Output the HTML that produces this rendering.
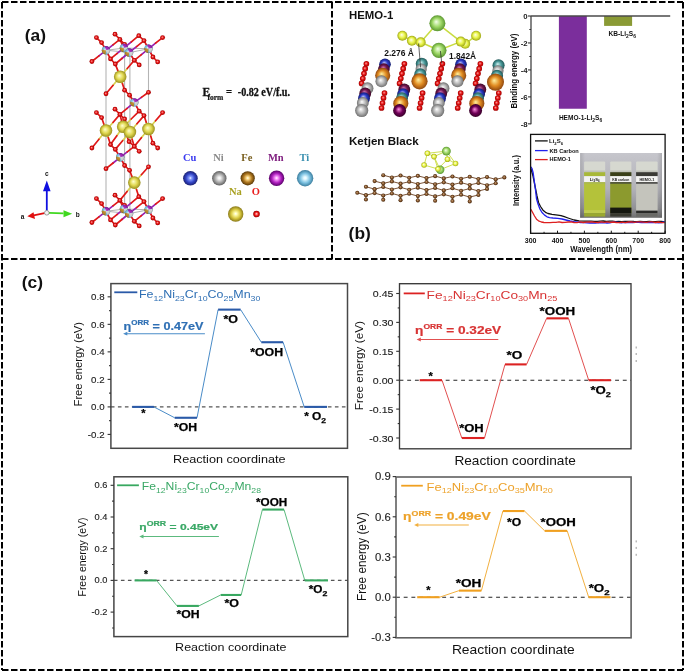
<!DOCTYPE html><html><head><meta charset="utf-8"><style>html,body{margin:0;padding:0;background:#fff;}svg{display:block;will-change:transform;}</style></head><body>
<svg width="685" height="672" viewBox="0 0 685 672">
<defs>
<radialGradient id="g_red" cx="0.5" cy="0.5" r="0.5" fx="0.42" fy="0.4"><stop offset="0" stop-color="#ff9a9a"/><stop offset="0.55" stop-color="#e01010"/><stop offset="1" stop-color="#a00000"/></radialGradient>
<radialGradient id="g_blue" cx="0.5" cy="0.5" r="0.5" fx="0.42" fy="0.4"><stop offset="0" stop-color="#c8d0ff"/><stop offset="0.55" stop-color="#2c3cc8"/><stop offset="1" stop-color="#101a70"/></radialGradient>
<radialGradient id="g_gray" cx="0.5" cy="0.5" r="0.5" fx="0.42" fy="0.4"><stop offset="0" stop-color="#ffffff"/><stop offset="0.55" stop-color="#b4b4b4"/><stop offset="1" stop-color="#707070"/></radialGradient>
<radialGradient id="g_brown" cx="0.5" cy="0.5" r="0.5" fx="0.42" fy="0.4"><stop offset="0" stop-color="#ffe0a0"/><stop offset="0.55" stop-color="#a86c18"/><stop offset="1" stop-color="#603808"/></radialGradient>
<radialGradient id="g_purple" cx="0.5" cy="0.5" r="0.5" fx="0.42" fy="0.4"><stop offset="0" stop-color="#ffb0ff"/><stop offset="0.55" stop-color="#a020b0"/><stop offset="1" stop-color="#500060"/></radialGradient>
<radialGradient id="g_cyan" cx="0.5" cy="0.5" r="0.5" fx="0.42" fy="0.4"><stop offset="0" stop-color="#ffffff"/><stop offset="0.55" stop-color="#70c0e8"/><stop offset="1" stop-color="#3080a8"/></radialGradient>
<radialGradient id="g_yellow" cx="0.5" cy="0.5" r="0.5" fx="0.42" fy="0.4"><stop offset="0" stop-color="#ffffc0"/><stop offset="0.55" stop-color="#d8c838"/><stop offset="1" stop-color="#8a7a10"/></radialGradient>
<radialGradient id="g_na" cx="0.5" cy="0.5" r="0.5" fx="0.42" fy="0.4"><stop offset="0" stop-color="#ffffd0"/><stop offset="0.55" stop-color="#e0d850"/><stop offset="1" stop-color="#9a9020"/></radialGradient>
<radialGradient id="g_orange" cx="0.5" cy="0.5" r="0.5" fx="0.42" fy="0.4"><stop offset="0" stop-color="#fff0a0"/><stop offset="0.55" stop-color="#e08a20"/><stop offset="1" stop-color="#904810"/></radialGradient>
<radialGradient id="g_teal" cx="0.5" cy="0.5" r="0.5" fx="0.42" fy="0.4"><stop offset="0" stop-color="#d0f0f0"/><stop offset="0.55" stop-color="#4a9898"/><stop offset="1" stop-color="#205858"/></radialGradient>
<radialGradient id="g_maroon" cx="0.5" cy="0.5" r="0.5" fx="0.42" fy="0.4"><stop offset="0" stop-color="#e080c0"/><stop offset="0.55" stop-color="#701850"/><stop offset="1" stop-color="#400828"/></radialGradient>
<radialGradient id="g_dpurp" cx="0.5" cy="0.5" r="0.5" fx="0.42" fy="0.4"><stop offset="0" stop-color="#ff90e0"/><stop offset="0.55" stop-color="#700058"/><stop offset="1" stop-color="#380028"/></radialGradient>
<radialGradient id="g_green" cx="0.5" cy="0.5" r="0.5" fx="0.42" fy="0.4"><stop offset="0" stop-color="#f4ffe8"/><stop offset="0.55" stop-color="#9ed866"/><stop offset="1" stop-color="#5a9630"/></radialGradient>
<radialGradient id="g_sy" cx="0.5" cy="0.5" r="0.5" fx="0.42" fy="0.4"><stop offset="0" stop-color="#ffffe8"/><stop offset="0.55" stop-color="#e8f448"/><stop offset="1" stop-color="#a0a818"/></radialGradient>
<radialGradient id="g_cbrown" cx="0.5" cy="0.5" r="0.5" fx="0.42" fy="0.4"><stop offset="0" stop-color="#d0a880"/><stop offset="0.55" stop-color="#7e5028"/><stop offset="1" stop-color="#44260c"/></radialGradient>
<radialGradient id="g_metal" cx="0.5" cy="0.5" r="0.5" fx="0.42" fy="0.4"><stop offset="0" stop-color="#ffffff"/><stop offset="0.55" stop-color="#8aa0c0"/><stop offset="1" stop-color="#5a4a70"/></radialGradient>
<radialGradient id="l_blue" cx="0.5" cy="0.5" r="0.5" fx="0.5" fy="0.48"><stop offset="0" stop-color="#ffffff"/><stop offset="0.18" stop-color="#8aa0ff"/><stop offset="0.6" stop-color="#3446c8"/><stop offset="1" stop-color="#1a2070"/></radialGradient>
<radialGradient id="l_gray" cx="0.5" cy="0.5" r="0.5" fx="0.5" fy="0.48"><stop offset="0" stop-color="#ffffff"/><stop offset="0.18" stop-color="#f0f0f0"/><stop offset="0.6" stop-color="#a8a8a8"/><stop offset="1" stop-color="#606060"/></radialGradient>
<radialGradient id="l_brown" cx="0.5" cy="0.5" r="0.5" fx="0.5" fy="0.48"><stop offset="0" stop-color="#ffffff"/><stop offset="0.18" stop-color="#ffe090"/><stop offset="0.6" stop-color="#b07820"/><stop offset="1" stop-color="#583808"/></radialGradient>
<radialGradient id="l_purple" cx="0.5" cy="0.5" r="0.5" fx="0.5" fy="0.48"><stop offset="0" stop-color="#ffffff"/><stop offset="0.18" stop-color="#ffa0ff"/><stop offset="0.6" stop-color="#b020c0"/><stop offset="1" stop-color="#580068"/></radialGradient>
<radialGradient id="l_cyan" cx="0.5" cy="0.5" r="0.5" fx="0.5" fy="0.48"><stop offset="0" stop-color="#ffffff"/><stop offset="0.18" stop-color="#e0f8ff"/><stop offset="0.6" stop-color="#7ac0e0"/><stop offset="1" stop-color="#3a7c9c"/></radialGradient>
<radialGradient id="l_yellow" cx="0.5" cy="0.5" r="0.5" fx="0.5" fy="0.48"><stop offset="0" stop-color="#ffffff"/><stop offset="0.18" stop-color="#fffcb0"/><stop offset="0.6" stop-color="#d8c840"/><stop offset="1" stop-color="#8a7a18"/></radialGradient>
<radialGradient id="l_red" cx="0.5" cy="0.5" r="0.5" fx="0.5" fy="0.48"><stop offset="0" stop-color="#ffffff"/><stop offset="0.18" stop-color="#ff9090"/><stop offset="0.6" stop-color="#e81010"/><stop offset="1" stop-color="#900000"/></radialGradient>
<radialGradient id="g_shade" cx="0.5" cy="0.5" r="0.5" fx="0.38" fy="0.36"><stop offset="0" stop-color="#fff" stop-opacity="0.75"/><stop offset="0.35" stop-color="#fff" stop-opacity="0.1"/><stop offset="0.8" stop-color="#000" stop-opacity="0.05"/><stop offset="1" stop-color="#000" stop-opacity="0.35"/></radialGradient>
</defs>
<rect x="0" y="0" width="685" height="672" fill="#fff"/>
<line x1="2.00" y1="2.00" x2="683.00" y2="2.00" stroke="#000" stroke-width="2" stroke-dasharray="6.5 2.5"/>
<line x1="2.00" y1="2.00" x2="2.00" y2="670.00" stroke="#000" stroke-width="2" stroke-dasharray="6.5 2.5"/>
<line x1="683.00" y1="2.00" x2="683.00" y2="670.00" stroke="#000" stroke-width="2" stroke-dasharray="6.5 2.5"/>
<line x1="2.00" y1="670.00" x2="683.00" y2="670.00" stroke="#000" stroke-width="2" stroke-dasharray="6.5 2.5"/>
<line x1="332.00" y1="2.00" x2="332.00" y2="259.00" stroke="#000" stroke-width="2" stroke-dasharray="6.5 2.5"/>
<line x1="2.00" y1="259.00" x2="683.00" y2="259.00" stroke="#000" stroke-width="2" stroke-dasharray="6.5 2.5"/>
<line x1="110.90" y1="406.90" x2="347.50" y2="406.90" stroke="#555" stroke-width="1.1" stroke-dasharray="3.6 3.4"/>
<line x1="153.90" y1="406.90" x2="174.70" y2="417.77" stroke="#4a8cc8" stroke-width="1" />
<line x1="197.00" y1="417.77" x2="218.10" y2="309.62" stroke="#4a8cc8" stroke-width="1" />
<line x1="240.60" y1="309.62" x2="261.30" y2="342.23" stroke="#4a8cc8" stroke-width="1" />
<line x1="283.10" y1="342.23" x2="304.20" y2="406.90" stroke="#4a8cc8" stroke-width="1" />
<line x1="132.20" y1="406.90" x2="153.90" y2="406.90" stroke="#2a5aa8" stroke-width="2.1" />
<line x1="174.70" y1="417.77" x2="197.00" y2="417.77" stroke="#2a5aa8" stroke-width="2.1" />
<line x1="218.10" y1="309.62" x2="240.60" y2="309.62" stroke="#2a5aa8" stroke-width="2.1" />
<line x1="261.30" y1="342.23" x2="283.10" y2="342.23" stroke="#2a5aa8" stroke-width="2.1" />
<line x1="304.20" y1="406.90" x2="327.00" y2="406.90" stroke="#2a5aa8" stroke-width="2.1" />
<rect x="110.9" y="283.6" width="236.60" height="164.70" fill="none" stroke="#484848" stroke-width="1.5"/>
<line x1="107.60" y1="434.42" x2="110.90" y2="434.42" stroke="#333" stroke-width="1.1" />
<text x="104.60" y="437.66" font-size="9" fill="#1c1c1c" font-weight="normal" text-anchor="end" font-family='"Liberation Sans", sans-serif' stroke="#1c1c1c" stroke-width="0.12" transform-origin="104.6 434.4" transform="scale(1.08,1)">-0.2</text>
<line x1="107.60" y1="406.90" x2="110.90" y2="406.90" stroke="#333" stroke-width="1.1" />
<text x="104.60" y="410.14" font-size="9" fill="#1c1c1c" font-weight="normal" text-anchor="end" font-family='"Liberation Sans", sans-serif' stroke="#1c1c1c" stroke-width="0.12" transform-origin="104.6 406.9" transform="scale(1.08,1)">0.0</text>
<line x1="107.60" y1="379.38" x2="110.90" y2="379.38" stroke="#333" stroke-width="1.1" />
<text x="104.60" y="382.62" font-size="9" fill="#1c1c1c" font-weight="normal" text-anchor="end" font-family='"Liberation Sans", sans-serif' stroke="#1c1c1c" stroke-width="0.12" transform-origin="104.6 379.4" transform="scale(1.08,1)">0.2</text>
<line x1="107.60" y1="351.86" x2="110.90" y2="351.86" stroke="#333" stroke-width="1.1" />
<text x="104.60" y="355.10" font-size="9" fill="#1c1c1c" font-weight="normal" text-anchor="end" font-family='"Liberation Sans", sans-serif' stroke="#1c1c1c" stroke-width="0.12" transform-origin="104.6 351.9" transform="scale(1.08,1)">0.4</text>
<line x1="107.60" y1="324.34" x2="110.90" y2="324.34" stroke="#333" stroke-width="1.1" />
<text x="104.60" y="327.58" font-size="9" fill="#1c1c1c" font-weight="normal" text-anchor="end" font-family='"Liberation Sans", sans-serif' stroke="#1c1c1c" stroke-width="0.12" transform-origin="104.6 324.3" transform="scale(1.08,1)">0.6</text>
<line x1="107.60" y1="296.82" x2="110.90" y2="296.82" stroke="#333" stroke-width="1.1" />
<text x="104.60" y="300.06" font-size="9" fill="#1c1c1c" font-weight="normal" text-anchor="end" font-family='"Liberation Sans", sans-serif' stroke="#1c1c1c" stroke-width="0.12" transform-origin="104.6 296.8" transform="scale(1.08,1)">0.8</text>
<line x1="109.10" y1="420.66" x2="110.90" y2="420.66" stroke="#333" stroke-width="1.1" />
<line x1="109.10" y1="393.14" x2="110.90" y2="393.14" stroke="#333" stroke-width="1.1" />
<line x1="109.10" y1="365.62" x2="110.90" y2="365.62" stroke="#333" stroke-width="1.1" />
<line x1="109.10" y1="338.10" x2="110.90" y2="338.10" stroke="#333" stroke-width="1.1" />
<line x1="109.10" y1="310.58" x2="110.90" y2="310.58" stroke="#333" stroke-width="1.1" />
<line x1="114.30" y1="292.30" x2="137.30" y2="292.30" stroke="#2a5aa8" stroke-width="1.8" />
<text x="138.90" y="298.20" font-size="10.2" fill="#2e6fb4" font-weight="normal" font-family='"Liberation Sans", sans-serif' textLength="121.50" lengthAdjust="spacingAndGlyphs" ><tspan dy="0">Fe</tspan><tspan font-size="7.2" dy="2.8">12</tspan><tspan dy="-2.8">Ni</tspan><tspan font-size="7.2" dy="2.8">23</tspan><tspan dy="-2.8">Cr</tspan><tspan font-size="7.2" dy="2.8">10</tspan><tspan dy="-2.8">Co</tspan><tspan font-size="7.2" dy="2.8">25</tspan><tspan dy="-2.8">Mn</tspan><tspan font-size="7.2" dy="2.8">30</tspan></text>
<text x="123.50" y="329.60" font-size="11" fill="#2e6fb4" font-weight="bold" font-family='"Liberation Sans", sans-serif' textLength="79.90" lengthAdjust="spacingAndGlyphs" stroke="#2e6fb4" stroke-width="0.2"><tspan>&#951;</tspan><tspan font-size="7" dy="-4.8">ORR</tspan><tspan dy="4.8"> = 0.47eV</tspan></text>
<line x1="125.10" y1="333.70" x2="204.90" y2="333.70" stroke="#4a8cc8" stroke-width="1.1" />
<path d="M123.1,333.7 l4.2,-1.9 l0,3.8 z" fill="#4a8cc8"/>
<text x="141.20" y="416.80" font-size="10.4" fill="#000" font-weight="bold" font-family='"Liberation Sans", sans-serif' textLength="4.30" lengthAdjust="spacingAndGlyphs" stroke="#000" stroke-width="0.25"><tspan>*</tspan></text>
<text x="173.90" y="430.70" font-size="10.4" fill="#000" font-weight="bold" font-family='"Liberation Sans", sans-serif' textLength="23.10" lengthAdjust="spacingAndGlyphs" stroke="#000" stroke-width="0.25">*OH</text>
<text x="223.50" y="322.80" font-size="10.4" fill="#000" font-weight="bold" font-family='"Liberation Sans", sans-serif' textLength="14.50" lengthAdjust="spacingAndGlyphs" stroke="#000" stroke-width="0.25">*O</text>
<text x="250.20" y="355.70" font-size="10.4" fill="#000" font-weight="bold" font-family='"Liberation Sans", sans-serif' textLength="32.90" lengthAdjust="spacingAndGlyphs" stroke="#000" stroke-width="0.25">*OOH</text>
<text x="304.20" y="420.30" font-size="10.4" fill="#000" font-weight="bold" font-family='"Liberation Sans", sans-serif' textLength="21.90" lengthAdjust="spacingAndGlyphs" stroke="#000" stroke-width="0.25"><tspan>* O</tspan><tspan font-size="7.5" dy="2.8">2</tspan></text>
<text x="173.10" y="463.00" font-size="11.6" fill="#111" font-weight="normal" font-family='"Liberation Sans", sans-serif' textLength="112.40" lengthAdjust="spacingAndGlyphs" >Reaction coordinate</text>
<text x="0" y="0" font-size="11" fill="#111" font-family='"Liberation Sans", sans-serif' text-anchor="middle" textLength="84.5" lengthAdjust="spacingAndGlyphs" transform="translate(82.4,364.2) rotate(-90)">Free energy (eV)</text>
<line x1="399.50" y1="380.20" x2="631.00" y2="380.20" stroke="#262626" stroke-width="1.1" stroke-dasharray="3.9 3.8"/>
<line x1="442.00" y1="380.20" x2="461.80" y2="438.01" stroke="#e25050" stroke-width="1" />
<line x1="484.50" y1="438.01" x2="505.00" y2="364.40" stroke="#e25050" stroke-width="1" />
<line x1="526.60" y1="364.40" x2="546.60" y2="318.34" stroke="#e25050" stroke-width="1" />
<line x1="568.50" y1="318.34" x2="588.70" y2="380.20" stroke="#e25050" stroke-width="1" />
<line x1="419.70" y1="380.20" x2="442.00" y2="380.20" stroke="#dc2222" stroke-width="2.1" />
<line x1="461.80" y1="438.01" x2="484.50" y2="438.01" stroke="#dc2222" stroke-width="2.1" />
<line x1="505.00" y1="364.40" x2="526.60" y2="364.40" stroke="#dc2222" stroke-width="2.1" />
<line x1="546.60" y1="318.34" x2="568.50" y2="318.34" stroke="#dc2222" stroke-width="2.1" />
<line x1="588.70" y1="380.20" x2="610.90" y2="380.20" stroke="#dc2222" stroke-width="2.1" />
<rect x="399.5" y="283.7" width="231.50" height="165.10" fill="none" stroke="#3a3a3a" stroke-width="1.35"/>
<line x1="396.20" y1="438.01" x2="399.50" y2="438.01" stroke="#333" stroke-width="1.1" />
<text x="393.40" y="441.54" font-size="9.8" fill="#1c1c1c" font-weight="normal" text-anchor="end" font-family='"Liberation Sans", sans-serif' stroke="#1c1c1c" stroke-width="0.12" transform-origin="393.4 438.0" transform="scale(1.08,1)">-0.30</text>
<line x1="396.20" y1="409.10" x2="399.50" y2="409.10" stroke="#333" stroke-width="1.1" />
<text x="393.40" y="412.63" font-size="9.8" fill="#1c1c1c" font-weight="normal" text-anchor="end" font-family='"Liberation Sans", sans-serif' stroke="#1c1c1c" stroke-width="0.12" transform-origin="393.4 409.1" transform="scale(1.08,1)">-0.15</text>
<line x1="396.20" y1="380.20" x2="399.50" y2="380.20" stroke="#333" stroke-width="1.1" />
<text x="393.40" y="383.73" font-size="9.8" fill="#1c1c1c" font-weight="normal" text-anchor="end" font-family='"Liberation Sans", sans-serif' stroke="#1c1c1c" stroke-width="0.12" transform-origin="393.4 380.2" transform="scale(1.08,1)">0.00</text>
<line x1="396.20" y1="351.30" x2="399.50" y2="351.30" stroke="#333" stroke-width="1.1" />
<text x="393.40" y="354.82" font-size="9.8" fill="#1c1c1c" font-weight="normal" text-anchor="end" font-family='"Liberation Sans", sans-serif' stroke="#1c1c1c" stroke-width="0.12" transform-origin="393.4 351.3" transform="scale(1.08,1)">0.15</text>
<line x1="396.20" y1="322.39" x2="399.50" y2="322.39" stroke="#333" stroke-width="1.1" />
<text x="393.40" y="325.92" font-size="9.8" fill="#1c1c1c" font-weight="normal" text-anchor="end" font-family='"Liberation Sans", sans-serif' stroke="#1c1c1c" stroke-width="0.12" transform-origin="393.4 322.4" transform="scale(1.08,1)">0.30</text>
<line x1="396.20" y1="293.49" x2="399.50" y2="293.49" stroke="#333" stroke-width="1.1" />
<text x="393.40" y="297.01" font-size="9.8" fill="#1c1c1c" font-weight="normal" text-anchor="end" font-family='"Liberation Sans", sans-serif' stroke="#1c1c1c" stroke-width="0.12" transform-origin="393.4 293.5" transform="scale(1.08,1)">0.45</text>
<line x1="397.70" y1="423.56" x2="399.50" y2="423.56" stroke="#333" stroke-width="1.1" />
<line x1="397.70" y1="394.65" x2="399.50" y2="394.65" stroke="#333" stroke-width="1.1" />
<line x1="397.70" y1="365.75" x2="399.50" y2="365.75" stroke="#333" stroke-width="1.1" />
<line x1="397.70" y1="336.84" x2="399.50" y2="336.84" stroke="#333" stroke-width="1.1" />
<line x1="397.70" y1="307.94" x2="399.50" y2="307.94" stroke="#333" stroke-width="1.1" />
<line x1="403.70" y1="293.40" x2="424.80" y2="293.40" stroke="#dc2222" stroke-width="1.8" />
<text x="426.60" y="298.50" font-size="10.8" fill="#d83434" font-weight="normal" font-family='"Liberation Sans", sans-serif' textLength="130.80" lengthAdjust="spacingAndGlyphs" ><tspan dy="0">Fe</tspan><tspan font-size="7.2" dy="2.8">12</tspan><tspan dy="-2.8">Ni</tspan><tspan font-size="7.2" dy="2.8">23</tspan><tspan dy="-2.8">Cr</tspan><tspan font-size="7.2" dy="2.8">10</tspan><tspan dy="-2.8">Co</tspan><tspan font-size="7.2" dy="2.8">30</tspan><tspan dy="-2.8">Mn</tspan><tspan font-size="7.2" dy="2.8">25</tspan></text>
<text x="415.10" y="334.10" font-size="11.2" fill="#d83434" font-weight="bold" font-family='"Liberation Sans", sans-serif' textLength="86.10" lengthAdjust="spacingAndGlyphs" stroke="#d83434" stroke-width="0.2"><tspan>&#951;</tspan><tspan font-size="7" dy="-4.8">ORR</tspan><tspan dy="4.8"> = 0.32eV</tspan></text>
<line x1="418.60" y1="339.50" x2="498.30" y2="339.50" stroke="#e25050" stroke-width="1.1" />
<path d="M416.6,339.5 l4.2,-1.9 l0,3.8 z" fill="#e25050"/>
<text x="428.40" y="379.50" font-size="10.8" fill="#000" font-weight="bold" font-family='"Liberation Sans", sans-serif' textLength="4.30" lengthAdjust="spacingAndGlyphs" stroke="#000" stroke-width="0.25"><tspan>*</tspan></text>
<text x="459.20" y="432.20" font-size="10.8" fill="#000" font-weight="bold" font-family='"Liberation Sans", sans-serif' textLength="24.60" lengthAdjust="spacingAndGlyphs" stroke="#000" stroke-width="0.25">*OH</text>
<text x="506.50" y="359.40" font-size="10.8" fill="#000" font-weight="bold" font-family='"Liberation Sans", sans-serif' textLength="15.80" lengthAdjust="spacingAndGlyphs" stroke="#000" stroke-width="0.25">*O</text>
<text x="539.60" y="315.10" font-size="10.8" fill="#000" font-weight="bold" font-family='"Liberation Sans", sans-serif' textLength="35.60" lengthAdjust="spacingAndGlyphs" stroke="#000" stroke-width="0.25">*OOH</text>
<text x="590.40" y="394.00" font-size="10.8" fill="#000" font-weight="bold" font-family='"Liberation Sans", sans-serif' textLength="20.50" lengthAdjust="spacingAndGlyphs" stroke="#000" stroke-width="0.25"><tspan>*O</tspan><tspan font-size="7.5" dy="2.8">2</tspan></text>
<text x="454.40" y="464.90" font-size="12.6" fill="#111" font-weight="normal" font-family='"Liberation Sans", sans-serif' textLength="121.40" lengthAdjust="spacingAndGlyphs" >Reaction coordinate</text>
<text x="0" y="0" font-size="11.8" fill="#111" font-family='"Liberation Sans", sans-serif' text-anchor="middle" textLength="89.2" lengthAdjust="spacingAndGlyphs" transform="translate(362.7,365.6) rotate(-90)">Free energy (eV)</text>
<line x1="113.90" y1="580.40" x2="347.80" y2="580.40" stroke="#555" stroke-width="1.1" stroke-dasharray="3.6 3.4"/>
<line x1="156.50" y1="580.40" x2="177.00" y2="605.92" stroke="#5cba7e" stroke-width="1" />
<line x1="198.90" y1="605.92" x2="220.70" y2="594.98" stroke="#5cba7e" stroke-width="1" />
<line x1="241.20" y1="594.98" x2="262.40" y2="509.55" stroke="#5cba7e" stroke-width="1" />
<line x1="284.00" y1="509.55" x2="304.80" y2="580.40" stroke="#5cba7e" stroke-width="1" />
<line x1="134.60" y1="580.40" x2="156.50" y2="580.40" stroke="#38a860" stroke-width="2.1" />
<line x1="177.00" y1="605.92" x2="198.90" y2="605.92" stroke="#38a860" stroke-width="2.1" />
<line x1="220.70" y1="594.98" x2="241.20" y2="594.98" stroke="#38a860" stroke-width="2.1" />
<line x1="262.40" y1="509.55" x2="284.00" y2="509.55" stroke="#38a860" stroke-width="2.1" />
<line x1="304.80" y1="580.40" x2="328.00" y2="580.40" stroke="#38a860" stroke-width="2.1" />
<rect x="113.9" y="476.8" width="233.90" height="159.80" fill="none" stroke="#454545" stroke-width="1.5"/>
<line x1="110.60" y1="612.10" x2="113.90" y2="612.10" stroke="#333" stroke-width="1.1" />
<text x="107.50" y="615.20" font-size="8.6" fill="#1c1c1c" font-weight="normal" text-anchor="end" font-family='"Liberation Sans", sans-serif' stroke="#1c1c1c" stroke-width="0.12" transform-origin="107.5 612.1" transform="scale(1.08,1)">-0.2</text>
<line x1="110.60" y1="580.40" x2="113.90" y2="580.40" stroke="#333" stroke-width="1.1" />
<text x="107.50" y="583.50" font-size="8.6" fill="#1c1c1c" font-weight="normal" text-anchor="end" font-family='"Liberation Sans", sans-serif' stroke="#1c1c1c" stroke-width="0.12" transform-origin="107.5 580.4" transform="scale(1.08,1)">0.0</text>
<line x1="110.60" y1="548.70" x2="113.90" y2="548.70" stroke="#333" stroke-width="1.1" />
<text x="107.50" y="551.80" font-size="8.6" fill="#1c1c1c" font-weight="normal" text-anchor="end" font-family='"Liberation Sans", sans-serif' stroke="#1c1c1c" stroke-width="0.12" transform-origin="107.5 548.7" transform="scale(1.08,1)">0.2</text>
<line x1="110.60" y1="517.00" x2="113.90" y2="517.00" stroke="#333" stroke-width="1.1" />
<text x="107.50" y="520.10" font-size="8.6" fill="#1c1c1c" font-weight="normal" text-anchor="end" font-family='"Liberation Sans", sans-serif' stroke="#1c1c1c" stroke-width="0.12" transform-origin="107.5 517.0" transform="scale(1.08,1)">0.4</text>
<line x1="110.60" y1="485.30" x2="113.90" y2="485.30" stroke="#333" stroke-width="1.1" />
<text x="107.50" y="488.40" font-size="8.6" fill="#1c1c1c" font-weight="normal" text-anchor="end" font-family='"Liberation Sans", sans-serif' stroke="#1c1c1c" stroke-width="0.12" transform-origin="107.5 485.3" transform="scale(1.08,1)">0.6</text>
<line x1="112.10" y1="627.95" x2="113.90" y2="627.95" stroke="#333" stroke-width="1.1" />
<line x1="112.10" y1="596.25" x2="113.90" y2="596.25" stroke="#333" stroke-width="1.1" />
<line x1="112.10" y1="564.55" x2="113.90" y2="564.55" stroke="#333" stroke-width="1.1" />
<line x1="112.10" y1="532.85" x2="113.90" y2="532.85" stroke="#333" stroke-width="1.1" />
<line x1="112.10" y1="501.15" x2="113.90" y2="501.15" stroke="#333" stroke-width="1.1" />
<line x1="117.10" y1="485.30" x2="138.90" y2="485.30" stroke="#38a860" stroke-width="1.8" />
<text x="141.80" y="489.70" font-size="10.1" fill="#3aa866" font-weight="normal" font-family='"Liberation Sans", sans-serif' textLength="119.20" lengthAdjust="spacingAndGlyphs" ><tspan dy="0">Fe</tspan><tspan font-size="7.2" dy="2.8">12</tspan><tspan dy="-2.8">Ni</tspan><tspan font-size="7.2" dy="2.8">23</tspan><tspan dy="-2.8">Cr</tspan><tspan font-size="7.2" dy="2.8">10</tspan><tspan dy="-2.8">Co</tspan><tspan font-size="7.2" dy="2.8">27</tspan><tspan dy="-2.8">Mn</tspan><tspan font-size="7.2" dy="2.8">28</tspan></text>
<text x="139.30" y="530.30" font-size="9.6" fill="#3aa866" font-weight="bold" font-family='"Liberation Sans", sans-serif' textLength="78.80" lengthAdjust="spacingAndGlyphs" stroke="#3aa866" stroke-width="0.2"><tspan>&#951;</tspan><tspan font-size="7" dy="-4.8">ORR</tspan><tspan dy="4.8"> = 0.45eV</tspan></text>
<line x1="141.30" y1="536.50" x2="218.90" y2="536.50" stroke="#5cba7e" stroke-width="1.1" />
<path d="M139.3,536.5 l4.2,-1.9 l0,3.8 z" fill="#5cba7e"/>
<text x="144.00" y="577.50" font-size="10" fill="#000" font-weight="bold" font-family='"Liberation Sans", sans-serif' textLength="4.00" lengthAdjust="spacingAndGlyphs" stroke="#000" stroke-width="0.25"><tspan>*</tspan></text>
<text x="176.40" y="618.00" font-size="10" fill="#000" font-weight="bold" font-family='"Liberation Sans", sans-serif' textLength="23.10" lengthAdjust="spacingAndGlyphs" stroke="#000" stroke-width="0.25">*OH</text>
<text x="224.50" y="606.80" font-size="10" fill="#000" font-weight="bold" font-family='"Liberation Sans", sans-serif' textLength="14.50" lengthAdjust="spacingAndGlyphs" stroke="#000" stroke-width="0.25">*O</text>
<text x="256.00" y="505.60" font-size="10" fill="#000" font-weight="bold" font-family='"Liberation Sans", sans-serif' textLength="31.20" lengthAdjust="spacingAndGlyphs" stroke="#000" stroke-width="0.25">*OOH</text>
<text x="308.70" y="593.00" font-size="10" fill="#000" font-weight="bold" font-family='"Liberation Sans", sans-serif' textLength="18.60" lengthAdjust="spacingAndGlyphs" stroke="#000" stroke-width="0.25"><tspan>*O</tspan><tspan font-size="7.5" dy="2.8">2</tspan></text>
<text x="175.10" y="651.30" font-size="11.2" fill="#111" font-weight="normal" font-family='"Liberation Sans", sans-serif' textLength="111.40" lengthAdjust="spacingAndGlyphs" >Reaction coordinate</text>
<text x="0" y="0" font-size="10.5" fill="#111" font-family='"Liberation Sans", sans-serif' text-anchor="middle" textLength="79" lengthAdjust="spacingAndGlyphs" transform="translate(86.3,557) rotate(-90)">Free energy (eV)</text>
<line x1="396.00" y1="597.20" x2="631.10" y2="597.20" stroke="#262626" stroke-width="1.1" stroke-dasharray="3.9 3.8"/>
<line x1="439.70" y1="597.20" x2="459.00" y2="590.63" stroke="#f2b040" stroke-width="1" />
<line x1="481.40" y1="590.63" x2="502.90" y2="511.04" stroke="#f2b040" stroke-width="1" />
<line x1="524.50" y1="511.04" x2="544.70" y2="530.87" stroke="#f2b040" stroke-width="1" />
<line x1="567.20" y1="530.87" x2="588.70" y2="597.20" stroke="#f2b040" stroke-width="1" />
<line x1="417.20" y1="597.20" x2="439.70" y2="597.20" stroke="#f0a020" stroke-width="2.1" />
<line x1="459.00" y1="590.63" x2="481.40" y2="590.63" stroke="#f0a020" stroke-width="2.1" />
<line x1="502.90" y1="511.04" x2="524.50" y2="511.04" stroke="#f0a020" stroke-width="2.1" />
<line x1="544.70" y1="530.87" x2="567.20" y2="530.87" stroke="#f0a020" stroke-width="2.1" />
<line x1="588.70" y1="597.20" x2="610.50" y2="597.20" stroke="#f0a020" stroke-width="2.1" />
<rect x="396" y="477" width="235.10" height="160.80" fill="none" stroke="#606060" stroke-width="1.6"/>
<line x1="392.70" y1="637.40" x2="396.00" y2="637.40" stroke="#333" stroke-width="1.1" />
<text x="390.70" y="641.18" font-size="10.5" fill="#1c1c1c" font-weight="normal" text-anchor="end" font-family='"Liberation Sans", sans-serif' stroke="#1c1c1c" stroke-width="0.12" transform-origin="390.7 637.4" transform="scale(1.08,1)">-0.3</text>
<line x1="392.70" y1="597.20" x2="396.00" y2="597.20" stroke="#333" stroke-width="1.1" />
<text x="390.70" y="600.98" font-size="10.5" fill="#1c1c1c" font-weight="normal" text-anchor="end" font-family='"Liberation Sans", sans-serif' stroke="#1c1c1c" stroke-width="0.12" transform-origin="390.7 597.2" transform="scale(1.08,1)">0.0</text>
<line x1="392.70" y1="557.00" x2="396.00" y2="557.00" stroke="#333" stroke-width="1.1" />
<text x="390.70" y="560.78" font-size="10.5" fill="#1c1c1c" font-weight="normal" text-anchor="end" font-family='"Liberation Sans", sans-serif' stroke="#1c1c1c" stroke-width="0.12" transform-origin="390.7 557.0" transform="scale(1.08,1)">0.3</text>
<line x1="392.70" y1="516.80" x2="396.00" y2="516.80" stroke="#333" stroke-width="1.1" />
<text x="390.70" y="520.58" font-size="10.5" fill="#1c1c1c" font-weight="normal" text-anchor="end" font-family='"Liberation Sans", sans-serif' stroke="#1c1c1c" stroke-width="0.12" transform-origin="390.7 516.8" transform="scale(1.08,1)">0.6</text>
<line x1="392.70" y1="476.60" x2="396.00" y2="476.60" stroke="#333" stroke-width="1.1" />
<text x="390.70" y="480.38" font-size="10.5" fill="#1c1c1c" font-weight="normal" text-anchor="end" font-family='"Liberation Sans", sans-serif' stroke="#1c1c1c" stroke-width="0.12" transform-origin="390.7 476.6" transform="scale(1.08,1)">0.9</text>
<line x1="394.20" y1="617.30" x2="396.00" y2="617.30" stroke="#333" stroke-width="1.1" />
<line x1="394.20" y1="577.10" x2="396.00" y2="577.10" stroke="#333" stroke-width="1.1" />
<line x1="394.20" y1="536.90" x2="396.00" y2="536.90" stroke="#333" stroke-width="1.1" />
<line x1="394.20" y1="496.70" x2="396.00" y2="496.70" stroke="#333" stroke-width="1.1" />
<line x1="401.20" y1="485.70" x2="422.80" y2="485.70" stroke="#f0a020" stroke-width="1.8" />
<text x="426.60" y="490.50" font-size="10.3" fill="#eda22a" font-weight="normal" font-family='"Liberation Sans", sans-serif' textLength="126.30" lengthAdjust="spacingAndGlyphs" ><tspan dy="0">Fe</tspan><tspan font-size="7.2" dy="2.8">12</tspan><tspan dy="-2.8">Ni</tspan><tspan font-size="7.2" dy="2.8">23</tspan><tspan dy="-2.8">Cr</tspan><tspan font-size="7.2" dy="2.8">10</tspan><tspan dy="-2.8">Co</tspan><tspan font-size="7.2" dy="2.8">35</tspan><tspan dy="-2.8">Mn</tspan><tspan font-size="7.2" dy="2.8">20</tspan></text>
<text x="403.10" y="520.30" font-size="11" fill="#eda22a" font-weight="bold" font-family='"Liberation Sans", sans-serif' textLength="87.60" lengthAdjust="spacingAndGlyphs" stroke="#eda22a" stroke-width="0.2"><tspan>&#951;</tspan><tspan font-size="7" dy="-4.8">ORR</tspan><tspan dy="4.8"> = 0.49eV</tspan></text>
<line x1="416.10" y1="525.00" x2="468.80" y2="525.00" stroke="#f2b040" stroke-width="1.1" />
<path d="M414.1,525 l4.2,-1.9 l0,3.8 z" fill="#f2b040"/>
<text x="426.20" y="593.50" font-size="10.4" fill="#000" font-weight="bold" font-family='"Liberation Sans", sans-serif' textLength="4.30" lengthAdjust="spacingAndGlyphs" stroke="#000" stroke-width="0.25"><tspan>*</tspan></text>
<text x="455.70" y="586.50" font-size="10.4" fill="#000" font-weight="bold" font-family='"Liberation Sans", sans-serif' textLength="25.70" lengthAdjust="spacingAndGlyphs" stroke="#000" stroke-width="0.25">*OH</text>
<text x="507.10" y="526.10" font-size="10.4" fill="#000" font-weight="bold" font-family='"Liberation Sans", sans-serif' textLength="14.10" lengthAdjust="spacingAndGlyphs" stroke="#000" stroke-width="0.25">*O</text>
<text x="540.50" y="526.10" font-size="10.4" fill="#000" font-weight="bold" font-family='"Liberation Sans", sans-serif' textLength="35.30" lengthAdjust="spacingAndGlyphs" stroke="#000" stroke-width="0.25">*OOH</text>
<text x="588.70" y="592.00" font-size="10.4" fill="#000" font-weight="bold" font-family='"Liberation Sans", sans-serif' textLength="20.90" lengthAdjust="spacingAndGlyphs" stroke="#000" stroke-width="0.25"><tspan>*O</tspan><tspan font-size="7.5" dy="2.8">2</tspan></text>
<text x="451.90" y="654.30" font-size="12.6" fill="#111" font-weight="normal" font-family='"Liberation Sans", sans-serif' textLength="122.90" lengthAdjust="spacingAndGlyphs" >Reaction coordinate</text>
<text x="0" y="0" font-size="12" fill="#111" font-family='"Liberation Sans", sans-serif' text-anchor="middle" textLength="88.5" lengthAdjust="spacingAndGlyphs" transform="translate(366.4,556.7) rotate(-90)">Free energy (eV)</text>
<text x="21.80" y="288.30" font-size="17.4" fill="#111" font-weight="bold" text-anchor="start" font-family='"Liberation Sans", sans-serif' >(c)</text>
<rect x="635.6" y="346.5" width="1.2" height="2" fill="#aaa"/>
<rect x="635.6" y="353" width="1.2" height="2" fill="#aaa"/>
<rect x="635.6" y="360" width="1.2" height="2" fill="#aaa"/>
<rect x="635.6" y="540.4" width="1.2" height="2" fill="#aaa"/>
<rect x="635.6" y="546.9" width="1.2" height="2" fill="#aaa"/>
<rect x="635.6" y="553.8" width="1.2" height="2" fill="#aaa"/>
<text x="24.80" y="41.30" font-size="17.4" fill="#111" font-weight="bold" text-anchor="start" font-family='"Liberation Sans", sans-serif' >(a)</text>
<line x1="106.00" y1="50.30" x2="106.00" y2="211.30" stroke="#b4b4b4" stroke-width="1.1" />
<line x1="124.60" y1="48.00" x2="124.60" y2="209.00" stroke="#b4b4b4" stroke-width="1.1" />
<line x1="148.50" y1="48.80" x2="148.50" y2="209.80" stroke="#b4b4b4" stroke-width="1.1" />
<line x1="129.90" y1="52.50" x2="129.90" y2="213.50" stroke="#b4b4b4" stroke-width="1.1" />
<polygon points="106,50.3 124.6,48 148.5,48.8 129.9,52.5" fill="none" stroke="#b4b4b4" stroke-width="1.1"/>
<polygon points="106,211.3 124.6,209 148.5,209.8 129.9,213.5" fill="none" stroke="#b4b4b4" stroke-width="1.1"/>
<line x1="96.40" y1="37.60" x2="101.60" y2="42.60" stroke="#e01818" stroke-width="1.6" />
<line x1="115.00" y1="34.20" x2="119.90" y2="39.40" stroke="#e01818" stroke-width="1.6" />
<line x1="119.90" y1="39.40" x2="124.60" y2="44.30" stroke="#e01818" stroke-width="1.6" />
<line x1="138.80" y1="35.70" x2="144.00" y2="40.60" stroke="#e01818" stroke-width="1.6" />
<line x1="110.50" y1="58.90" x2="115.30" y2="64.00" stroke="#e01818" stroke-width="1.6" />
<line x1="134.30" y1="60.30" x2="139.20" y2="64.90" stroke="#e01818" stroke-width="1.6" />
<line x1="152.90" y1="57.00" x2="157.70" y2="61.90" stroke="#e01818" stroke-width="1.6" />
<line x1="96.40" y1="198.60" x2="101.60" y2="203.60" stroke="#e01818" stroke-width="1.6" />
<line x1="115.00" y1="195.20" x2="119.90" y2="200.40" stroke="#e01818" stroke-width="1.6" />
<line x1="119.90" y1="200.40" x2="124.60" y2="205.30" stroke="#e01818" stroke-width="1.6" />
<line x1="138.80" y1="196.70" x2="144.00" y2="201.60" stroke="#e01818" stroke-width="1.6" />
<line x1="110.50" y1="219.90" x2="115.30" y2="225.00" stroke="#e01818" stroke-width="1.6" />
<line x1="134.30" y1="221.30" x2="139.20" y2="225.90" stroke="#e01818" stroke-width="1.6" />
<line x1="152.90" y1="218.00" x2="157.70" y2="222.90" stroke="#e01818" stroke-width="1.6" />
<line x1="96.40" y1="112.60" x2="101.60" y2="117.60" stroke="#e01818" stroke-width="1.6" />
<line x1="115.00" y1="109.20" x2="119.90" y2="114.40" stroke="#e01818" stroke-width="1.6" />
<line x1="119.90" y1="114.40" x2="124.60" y2="119.00" stroke="#e01818" stroke-width="1.6" />
<line x1="139.20" y1="111.20" x2="144.00" y2="115.60" stroke="#e01818" stroke-width="1.6" />
<line x1="110.50" y1="144.60" x2="115.30" y2="149.40" stroke="#e01818" stroke-width="1.6" />
<line x1="129.10" y1="141.70" x2="134.30" y2="146.40" stroke="#e01818" stroke-width="1.6" />
<line x1="134.30" y1="146.40" x2="139.20" y2="151.30" stroke="#e01818" stroke-width="1.6" />
<line x1="152.90" y1="143.20" x2="157.70" y2="148.00" stroke="#e01818" stroke-width="1.6" />
<line x1="124.60" y1="90.20" x2="129.60" y2="95.20" stroke="#e01818" stroke-width="1.6" />
<line x1="124.60" y1="165.50" x2="129.60" y2="170.30" stroke="#e01818" stroke-width="1.6" />
<line x1="106.00" y1="50.30" x2="112.95" y2="44.85" stroke="#9a20b0" stroke-width="1.7" stroke-linecap="round"/>
<line x1="112.95" y1="44.85" x2="119.90" y2="39.40" stroke="#e01818" stroke-width="1.7" stroke-linecap="round"/>
<line x1="106.00" y1="50.30" x2="98.95" y2="55.90" stroke="#9a20b0" stroke-width="1.7" stroke-linecap="round"/>
<line x1="98.95" y1="55.90" x2="91.90" y2="61.50" stroke="#e01818" stroke-width="1.7" stroke-linecap="round"/>
<line x1="106.00" y1="50.30" x2="103.80" y2="46.45" stroke="#9a20b0" stroke-width="1.7" stroke-linecap="round"/>
<line x1="103.80" y1="46.45" x2="101.60" y2="42.60" stroke="#e01818" stroke-width="1.7" stroke-linecap="round"/>
<line x1="106.00" y1="50.30" x2="108.25" y2="54.60" stroke="#9a20b0" stroke-width="1.7" stroke-linecap="round"/>
<line x1="108.25" y1="54.60" x2="110.50" y2="58.90" stroke="#e01818" stroke-width="1.7" stroke-linecap="round"/>
<line x1="123.90" y1="48.00" x2="131.35" y2="41.85" stroke="#9a20b0" stroke-width="1.7" stroke-linecap="round"/>
<line x1="131.35" y1="41.85" x2="138.80" y2="35.70" stroke="#e01818" stroke-width="1.7" stroke-linecap="round"/>
<line x1="123.90" y1="48.00" x2="117.20" y2="53.45" stroke="#9a20b0" stroke-width="1.7" stroke-linecap="round"/>
<line x1="117.20" y1="53.45" x2="110.50" y2="58.90" stroke="#e01818" stroke-width="1.7" stroke-linecap="round"/>
<line x1="123.90" y1="48.00" x2="121.90" y2="43.70" stroke="#9a20b0" stroke-width="1.7" stroke-linecap="round"/>
<line x1="121.90" y1="43.70" x2="119.90" y2="39.40" stroke="#e01818" stroke-width="1.7" stroke-linecap="round"/>
<line x1="129.10" y1="52.50" x2="136.55" y2="46.55" stroke="#9a20b0" stroke-width="1.7" stroke-linecap="round"/>
<line x1="136.55" y1="46.55" x2="144.00" y2="40.60" stroke="#e01818" stroke-width="1.7" stroke-linecap="round"/>
<line x1="129.10" y1="52.50" x2="122.20" y2="58.25" stroke="#9a20b0" stroke-width="1.7" stroke-linecap="round"/>
<line x1="122.20" y1="58.25" x2="115.30" y2="64.00" stroke="#e01818" stroke-width="1.7" stroke-linecap="round"/>
<line x1="129.10" y1="52.50" x2="126.85" y2="48.40" stroke="#9a20b0" stroke-width="1.7" stroke-linecap="round"/>
<line x1="126.85" y1="48.40" x2="124.60" y2="44.30" stroke="#e01818" stroke-width="1.7" stroke-linecap="round"/>
<line x1="129.10" y1="52.50" x2="131.70" y2="56.40" stroke="#9a20b0" stroke-width="1.7" stroke-linecap="round"/>
<line x1="131.70" y1="56.40" x2="134.30" y2="60.30" stroke="#e01818" stroke-width="1.7" stroke-linecap="round"/>
<line x1="148.50" y1="48.80" x2="155.55" y2="43.20" stroke="#9a20b0" stroke-width="1.7" stroke-linecap="round"/>
<line x1="155.55" y1="43.20" x2="162.60" y2="37.60" stroke="#e01818" stroke-width="1.7" stroke-linecap="round"/>
<line x1="148.50" y1="48.80" x2="141.40" y2="54.55" stroke="#9a20b0" stroke-width="1.7" stroke-linecap="round"/>
<line x1="141.40" y1="54.55" x2="134.30" y2="60.30" stroke="#e01818" stroke-width="1.7" stroke-linecap="round"/>
<line x1="148.50" y1="48.80" x2="146.25" y2="44.70" stroke="#9a20b0" stroke-width="1.7" stroke-linecap="round"/>
<line x1="146.25" y1="44.70" x2="144.00" y2="40.60" stroke="#e01818" stroke-width="1.7" stroke-linecap="round"/>
<line x1="148.50" y1="48.80" x2="150.70" y2="52.90" stroke="#9a20b0" stroke-width="1.7" stroke-linecap="round"/>
<line x1="150.70" y1="52.90" x2="152.90" y2="57.00" stroke="#e01818" stroke-width="1.7" stroke-linecap="round"/>
<line x1="106.00" y1="211.30" x2="112.95" y2="205.85" stroke="#9a20b0" stroke-width="1.7" stroke-linecap="round"/>
<line x1="112.95" y1="205.85" x2="119.90" y2="200.40" stroke="#e01818" stroke-width="1.7" stroke-linecap="round"/>
<line x1="106.00" y1="211.30" x2="98.95" y2="216.90" stroke="#9a20b0" stroke-width="1.7" stroke-linecap="round"/>
<line x1="98.95" y1="216.90" x2="91.90" y2="222.50" stroke="#e01818" stroke-width="1.7" stroke-linecap="round"/>
<line x1="106.00" y1="211.30" x2="103.80" y2="207.45" stroke="#9a20b0" stroke-width="1.7" stroke-linecap="round"/>
<line x1="103.80" y1="207.45" x2="101.60" y2="203.60" stroke="#e01818" stroke-width="1.7" stroke-linecap="round"/>
<line x1="106.00" y1="211.30" x2="108.25" y2="215.60" stroke="#9a20b0" stroke-width="1.7" stroke-linecap="round"/>
<line x1="108.25" y1="215.60" x2="110.50" y2="219.90" stroke="#e01818" stroke-width="1.7" stroke-linecap="round"/>
<line x1="123.90" y1="209.00" x2="131.35" y2="202.85" stroke="#9a20b0" stroke-width="1.7" stroke-linecap="round"/>
<line x1="131.35" y1="202.85" x2="138.80" y2="196.70" stroke="#e01818" stroke-width="1.7" stroke-linecap="round"/>
<line x1="123.90" y1="209.00" x2="117.20" y2="214.45" stroke="#9a20b0" stroke-width="1.7" stroke-linecap="round"/>
<line x1="117.20" y1="214.45" x2="110.50" y2="219.90" stroke="#e01818" stroke-width="1.7" stroke-linecap="round"/>
<line x1="123.90" y1="209.00" x2="121.90" y2="204.70" stroke="#9a20b0" stroke-width="1.7" stroke-linecap="round"/>
<line x1="121.90" y1="204.70" x2="119.90" y2="200.40" stroke="#e01818" stroke-width="1.7" stroke-linecap="round"/>
<line x1="129.10" y1="213.50" x2="136.55" y2="207.55" stroke="#9a20b0" stroke-width="1.7" stroke-linecap="round"/>
<line x1="136.55" y1="207.55" x2="144.00" y2="201.60" stroke="#e01818" stroke-width="1.7" stroke-linecap="round"/>
<line x1="129.10" y1="213.50" x2="122.20" y2="219.25" stroke="#9a20b0" stroke-width="1.7" stroke-linecap="round"/>
<line x1="122.20" y1="219.25" x2="115.30" y2="225.00" stroke="#e01818" stroke-width="1.7" stroke-linecap="round"/>
<line x1="129.10" y1="213.50" x2="126.85" y2="209.40" stroke="#9a20b0" stroke-width="1.7" stroke-linecap="round"/>
<line x1="126.85" y1="209.40" x2="124.60" y2="205.30" stroke="#e01818" stroke-width="1.7" stroke-linecap="round"/>
<line x1="129.10" y1="213.50" x2="131.70" y2="217.40" stroke="#9a20b0" stroke-width="1.7" stroke-linecap="round"/>
<line x1="131.70" y1="217.40" x2="134.30" y2="221.30" stroke="#e01818" stroke-width="1.7" stroke-linecap="round"/>
<line x1="148.50" y1="209.80" x2="155.55" y2="204.20" stroke="#9a20b0" stroke-width="1.7" stroke-linecap="round"/>
<line x1="155.55" y1="204.20" x2="162.60" y2="198.60" stroke="#e01818" stroke-width="1.7" stroke-linecap="round"/>
<line x1="148.50" y1="209.80" x2="141.40" y2="215.55" stroke="#9a20b0" stroke-width="1.7" stroke-linecap="round"/>
<line x1="141.40" y1="215.55" x2="134.30" y2="221.30" stroke="#e01818" stroke-width="1.7" stroke-linecap="round"/>
<line x1="148.50" y1="209.80" x2="146.25" y2="205.70" stroke="#9a20b0" stroke-width="1.7" stroke-linecap="round"/>
<line x1="146.25" y1="205.70" x2="144.00" y2="201.60" stroke="#e01818" stroke-width="1.7" stroke-linecap="round"/>
<line x1="148.50" y1="209.80" x2="150.70" y2="213.90" stroke="#9a20b0" stroke-width="1.7" stroke-linecap="round"/>
<line x1="150.70" y1="213.90" x2="152.90" y2="218.00" stroke="#e01818" stroke-width="1.7" stroke-linecap="round"/>
<line x1="134.30" y1="102.40" x2="141.40" y2="97.35" stroke="#9a20b0" stroke-width="1.7" stroke-linecap="round"/>
<line x1="141.40" y1="97.35" x2="148.50" y2="92.30" stroke="#e01818" stroke-width="1.7" stroke-linecap="round"/>
<line x1="134.30" y1="102.40" x2="127.10" y2="108.40" stroke="#9a20b0" stroke-width="1.7" stroke-linecap="round"/>
<line x1="127.10" y1="108.40" x2="119.90" y2="114.40" stroke="#e01818" stroke-width="1.7" stroke-linecap="round"/>
<line x1="134.30" y1="102.40" x2="131.95" y2="98.80" stroke="#9a20b0" stroke-width="1.7" stroke-linecap="round"/>
<line x1="131.95" y1="98.80" x2="129.60" y2="95.20" stroke="#e01818" stroke-width="1.7" stroke-linecap="round"/>
<line x1="134.30" y1="102.40" x2="136.75" y2="106.80" stroke="#9a20b0" stroke-width="1.7" stroke-linecap="round"/>
<line x1="136.75" y1="106.80" x2="139.20" y2="111.20" stroke="#e01818" stroke-width="1.7" stroke-linecap="round"/>
<line x1="120.20" y1="157.30" x2="127.25" y2="151.85" stroke="#9a20b0" stroke-width="1.7" stroke-linecap="round"/>
<line x1="127.25" y1="151.85" x2="134.30" y2="146.40" stroke="#e01818" stroke-width="1.7" stroke-linecap="round"/>
<line x1="120.20" y1="157.30" x2="113.10" y2="163.00" stroke="#9a20b0" stroke-width="1.7" stroke-linecap="round"/>
<line x1="113.10" y1="163.00" x2="106.00" y2="168.70" stroke="#e01818" stroke-width="1.7" stroke-linecap="round"/>
<line x1="120.20" y1="157.30" x2="117.75" y2="153.35" stroke="#9a20b0" stroke-width="1.7" stroke-linecap="round"/>
<line x1="117.75" y1="153.35" x2="115.30" y2="149.40" stroke="#e01818" stroke-width="1.7" stroke-linecap="round"/>
<line x1="120.20" y1="157.30" x2="122.40" y2="161.40" stroke="#9a20b0" stroke-width="1.7" stroke-linecap="round"/>
<line x1="122.40" y1="161.40" x2="124.60" y2="165.50" stroke="#e01818" stroke-width="1.7" stroke-linecap="round"/>
<line x1="106.00" y1="130.50" x2="112.95" y2="122.45" stroke="#d8d050" stroke-width="1.7" stroke-linecap="round"/>
<line x1="112.95" y1="122.45" x2="119.90" y2="114.40" stroke="#e01818" stroke-width="1.7" stroke-linecap="round"/>
<line x1="106.00" y1="130.50" x2="98.95" y2="139.25" stroke="#d8d050" stroke-width="1.7" stroke-linecap="round"/>
<line x1="98.95" y1="139.25" x2="91.90" y2="148.00" stroke="#e01818" stroke-width="1.7" stroke-linecap="round"/>
<line x1="106.00" y1="130.50" x2="103.80" y2="124.05" stroke="#d8d050" stroke-width="1.7" stroke-linecap="round"/>
<line x1="103.80" y1="124.05" x2="101.60" y2="117.60" stroke="#e01818" stroke-width="1.7" stroke-linecap="round"/>
<line x1="106.00" y1="130.50" x2="108.25" y2="137.55" stroke="#d8d050" stroke-width="1.7" stroke-linecap="round"/>
<line x1="108.25" y1="137.55" x2="110.50" y2="144.60" stroke="#e01818" stroke-width="1.7" stroke-linecap="round"/>
<line x1="123.20" y1="126.80" x2="131.20" y2="119.00" stroke="#d8d050" stroke-width="1.7" stroke-linecap="round"/>
<line x1="131.20" y1="119.00" x2="139.20" y2="111.20" stroke="#e01818" stroke-width="1.7" stroke-linecap="round"/>
<line x1="123.20" y1="126.80" x2="116.85" y2="135.70" stroke="#d8d050" stroke-width="1.7" stroke-linecap="round"/>
<line x1="116.85" y1="135.70" x2="110.50" y2="144.60" stroke="#e01818" stroke-width="1.7" stroke-linecap="round"/>
<line x1="123.20" y1="126.80" x2="121.55" y2="120.60" stroke="#d8d050" stroke-width="1.7" stroke-linecap="round"/>
<line x1="121.55" y1="120.60" x2="119.90" y2="114.40" stroke="#e01818" stroke-width="1.7" stroke-linecap="round"/>
<line x1="123.20" y1="126.80" x2="126.15" y2="134.25" stroke="#d8d050" stroke-width="1.7" stroke-linecap="round"/>
<line x1="126.15" y1="134.25" x2="129.10" y2="141.70" stroke="#e01818" stroke-width="1.7" stroke-linecap="round"/>
<line x1="129.90" y1="132.00" x2="136.95" y2="123.80" stroke="#d8d050" stroke-width="1.7" stroke-linecap="round"/>
<line x1="136.95" y1="123.80" x2="144.00" y2="115.60" stroke="#e01818" stroke-width="1.7" stroke-linecap="round"/>
<line x1="129.90" y1="132.00" x2="122.60" y2="140.70" stroke="#d8d050" stroke-width="1.7" stroke-linecap="round"/>
<line x1="122.60" y1="140.70" x2="115.30" y2="149.40" stroke="#e01818" stroke-width="1.7" stroke-linecap="round"/>
<line x1="129.90" y1="132.00" x2="127.25" y2="125.50" stroke="#d8d050" stroke-width="1.7" stroke-linecap="round"/>
<line x1="127.25" y1="125.50" x2="124.60" y2="119.00" stroke="#e01818" stroke-width="1.7" stroke-linecap="round"/>
<line x1="129.90" y1="132.00" x2="132.10" y2="139.20" stroke="#d8d050" stroke-width="1.7" stroke-linecap="round"/>
<line x1="132.10" y1="139.20" x2="134.30" y2="146.40" stroke="#e01818" stroke-width="1.7" stroke-linecap="round"/>
<line x1="148.50" y1="129.00" x2="155.55" y2="120.80" stroke="#d8d050" stroke-width="1.7" stroke-linecap="round"/>
<line x1="155.55" y1="120.80" x2="162.60" y2="112.60" stroke="#e01818" stroke-width="1.7" stroke-linecap="round"/>
<line x1="148.50" y1="129.00" x2="141.40" y2="137.70" stroke="#d8d050" stroke-width="1.7" stroke-linecap="round"/>
<line x1="141.40" y1="137.70" x2="134.30" y2="146.40" stroke="#e01818" stroke-width="1.7" stroke-linecap="round"/>
<line x1="148.50" y1="129.00" x2="146.25" y2="122.30" stroke="#d8d050" stroke-width="1.7" stroke-linecap="round"/>
<line x1="146.25" y1="122.30" x2="144.00" y2="115.60" stroke="#e01818" stroke-width="1.7" stroke-linecap="round"/>
<line x1="148.50" y1="129.00" x2="150.70" y2="136.10" stroke="#d8d050" stroke-width="1.7" stroke-linecap="round"/>
<line x1="150.70" y1="136.10" x2="152.90" y2="143.20" stroke="#e01818" stroke-width="1.7" stroke-linecap="round"/>
<line x1="120.20" y1="76.80" x2="127.25" y2="68.55" stroke="#d8d050" stroke-width="1.7" stroke-linecap="round"/>
<line x1="127.25" y1="68.55" x2="134.30" y2="60.30" stroke="#e01818" stroke-width="1.7" stroke-linecap="round"/>
<line x1="120.20" y1="76.80" x2="113.10" y2="85.28" stroke="#d8d050" stroke-width="1.7" stroke-linecap="round"/>
<line x1="113.10" y1="85.28" x2="106.00" y2="93.75" stroke="#e01818" stroke-width="1.7" stroke-linecap="round"/>
<line x1="120.20" y1="76.80" x2="117.75" y2="70.40" stroke="#d8d050" stroke-width="1.7" stroke-linecap="round"/>
<line x1="117.75" y1="70.40" x2="115.30" y2="64.00" stroke="#e01818" stroke-width="1.7" stroke-linecap="round"/>
<line x1="120.20" y1="76.80" x2="122.40" y2="83.50" stroke="#d8d050" stroke-width="1.7" stroke-linecap="round"/>
<line x1="122.40" y1="83.50" x2="124.60" y2="90.20" stroke="#e01818" stroke-width="1.7" stroke-linecap="round"/>
<line x1="134.30" y1="182.60" x2="141.40" y2="174.70" stroke="#d8d050" stroke-width="1.7" stroke-linecap="round"/>
<line x1="141.40" y1="174.70" x2="148.50" y2="166.80" stroke="#e01818" stroke-width="1.7" stroke-linecap="round"/>
<line x1="134.30" y1="182.60" x2="127.10" y2="191.50" stroke="#d8d050" stroke-width="1.7" stroke-linecap="round"/>
<line x1="127.10" y1="191.50" x2="119.90" y2="200.40" stroke="#e01818" stroke-width="1.7" stroke-linecap="round"/>
<line x1="134.30" y1="182.60" x2="131.95" y2="176.45" stroke="#d8d050" stroke-width="1.7" stroke-linecap="round"/>
<line x1="131.95" y1="176.45" x2="129.60" y2="170.30" stroke="#e01818" stroke-width="1.7" stroke-linecap="round"/>
<line x1="134.30" y1="182.60" x2="136.55" y2="189.65" stroke="#d8d050" stroke-width="1.7" stroke-linecap="round"/>
<line x1="136.55" y1="189.65" x2="138.80" y2="196.70" stroke="#e01818" stroke-width="1.7" stroke-linecap="round"/>
<circle cx="96.40" cy="37.60" r="2.40" fill="url(#g_red)" />
<circle cx="101.60" cy="42.60" r="2.40" fill="url(#g_red)" />
<circle cx="115.00" cy="34.20" r="2.40" fill="url(#g_red)" />
<circle cx="119.90" cy="39.40" r="2.40" fill="url(#g_red)" />
<circle cx="124.60" cy="44.30" r="2.40" fill="url(#g_red)" />
<circle cx="138.80" cy="35.70" r="2.40" fill="url(#g_red)" />
<circle cx="144.00" cy="40.60" r="2.40" fill="url(#g_red)" />
<circle cx="162.60" cy="37.60" r="2.40" fill="url(#g_red)" />
<circle cx="91.90" cy="61.50" r="2.40" fill="url(#g_red)" />
<circle cx="110.50" cy="58.90" r="2.40" fill="url(#g_red)" />
<circle cx="115.30" cy="64.00" r="2.40" fill="url(#g_red)" />
<circle cx="134.30" cy="60.30" r="2.40" fill="url(#g_red)" />
<circle cx="139.20" cy="64.90" r="2.40" fill="url(#g_red)" />
<circle cx="152.90" cy="57.00" r="2.40" fill="url(#g_red)" />
<circle cx="157.70" cy="61.90" r="2.40" fill="url(#g_red)" />
<circle cx="96.40" cy="198.60" r="2.40" fill="url(#g_red)" />
<circle cx="101.60" cy="203.60" r="2.40" fill="url(#g_red)" />
<circle cx="115.00" cy="195.20" r="2.40" fill="url(#g_red)" />
<circle cx="119.90" cy="200.40" r="2.40" fill="url(#g_red)" />
<circle cx="124.60" cy="205.30" r="2.40" fill="url(#g_red)" />
<circle cx="138.80" cy="196.70" r="2.40" fill="url(#g_red)" />
<circle cx="144.00" cy="201.60" r="2.40" fill="url(#g_red)" />
<circle cx="162.60" cy="198.60" r="2.40" fill="url(#g_red)" />
<circle cx="91.90" cy="222.50" r="2.40" fill="url(#g_red)" />
<circle cx="110.50" cy="219.90" r="2.40" fill="url(#g_red)" />
<circle cx="115.30" cy="225.00" r="2.40" fill="url(#g_red)" />
<circle cx="134.30" cy="221.30" r="2.40" fill="url(#g_red)" />
<circle cx="139.20" cy="225.90" r="2.40" fill="url(#g_red)" />
<circle cx="152.90" cy="218.00" r="2.40" fill="url(#g_red)" />
<circle cx="157.70" cy="222.90" r="2.40" fill="url(#g_red)" />
<circle cx="96.40" cy="112.60" r="2.40" fill="url(#g_red)" />
<circle cx="101.60" cy="117.60" r="2.40" fill="url(#g_red)" />
<circle cx="115.00" cy="109.20" r="2.40" fill="url(#g_red)" />
<circle cx="119.90" cy="114.40" r="2.40" fill="url(#g_red)" />
<circle cx="124.60" cy="119.00" r="2.40" fill="url(#g_red)" />
<circle cx="139.20" cy="111.20" r="2.40" fill="url(#g_red)" />
<circle cx="144.00" cy="115.60" r="2.40" fill="url(#g_red)" />
<circle cx="162.60" cy="112.60" r="2.40" fill="url(#g_red)" />
<circle cx="91.90" cy="148.00" r="2.40" fill="url(#g_red)" />
<circle cx="110.50" cy="144.60" r="2.40" fill="url(#g_red)" />
<circle cx="115.30" cy="149.40" r="2.40" fill="url(#g_red)" />
<circle cx="129.10" cy="141.70" r="2.40" fill="url(#g_red)" />
<circle cx="134.30" cy="146.40" r="2.40" fill="url(#g_red)" />
<circle cx="139.20" cy="151.30" r="2.40" fill="url(#g_red)" />
<circle cx="152.90" cy="143.20" r="2.40" fill="url(#g_red)" />
<circle cx="157.70" cy="148.00" r="2.40" fill="url(#g_red)" />
<circle cx="106.00" cy="93.75" r="2.40" fill="url(#g_red)" />
<circle cx="124.60" cy="90.20" r="2.40" fill="url(#g_red)" />
<circle cx="129.60" cy="95.20" r="2.40" fill="url(#g_red)" />
<circle cx="148.50" cy="92.30" r="2.40" fill="url(#g_red)" />
<circle cx="106.00" cy="168.70" r="2.40" fill="url(#g_red)" />
<circle cx="124.60" cy="165.50" r="2.40" fill="url(#g_red)" />
<circle cx="129.60" cy="170.30" r="2.40" fill="url(#g_red)" />
<circle cx="148.50" cy="166.80" r="2.40" fill="url(#g_red)" />
<circle cx="106.00" cy="130.50" r="6.30" fill="url(#g_na)" />
<circle cx="123.20" cy="126.80" r="6.30" fill="url(#g_na)" />
<circle cx="129.90" cy="132.00" r="6.30" fill="url(#g_na)" />
<circle cx="148.50" cy="129.00" r="6.30" fill="url(#g_na)" />
<circle cx="120.20" cy="76.80" r="6.30" fill="url(#g_na)" />
<circle cx="134.30" cy="182.60" r="6.30" fill="url(#g_na)" />
<circle cx="106.00" cy="50.30" r="4.20" fill="#7ec4e4" />
<path d="M106.00,50.30 L104.56,46.35 A4.20,4.20 0 0 1 110.06,49.21 Z" fill="#a020b8"/>
<path d="M106.00,50.30 L110.06,49.21 A4.20,4.20 0 0 1 107.44,54.25 Z" fill="#d8dcdc"/>
<path d="M106.00,50.30 L105.63,54.48 A4.20,4.20 0 0 1 101.86,49.57 Z" fill="#c08a28"/>
<circle cx="106.00" cy="50.30" r="4.20" fill="url(#g_shade)" />
<circle cx="123.90" cy="48.00" r="4.20" fill="#7ec4e4" />
<path d="M123.90,48.00 L122.46,44.05 A4.20,4.20 0 0 1 127.96,46.91 Z" fill="#a020b8"/>
<path d="M123.90,48.00 L127.96,46.91 A4.20,4.20 0 0 1 125.34,51.95 Z" fill="#d8dcdc"/>
<path d="M123.90,48.00 L123.53,52.18 A4.20,4.20 0 0 1 119.76,47.27 Z" fill="#c08a28"/>
<circle cx="123.90" cy="48.00" r="4.20" fill="url(#g_shade)" />
<circle cx="129.10" cy="52.50" r="4.20" fill="#7ec4e4" />
<path d="M129.10,52.50 L127.66,48.55 A4.20,4.20 0 0 1 133.16,51.41 Z" fill="#a020b8"/>
<path d="M129.10,52.50 L133.16,51.41 A4.20,4.20 0 0 1 130.54,56.45 Z" fill="#d8dcdc"/>
<path d="M129.10,52.50 L128.73,56.68 A4.20,4.20 0 0 1 124.96,51.77 Z" fill="#c08a28"/>
<circle cx="129.10" cy="52.50" r="4.20" fill="url(#g_shade)" />
<circle cx="148.50" cy="48.80" r="4.20" fill="#7ec4e4" />
<path d="M148.50,48.80 L147.06,44.85 A4.20,4.20 0 0 1 152.56,47.71 Z" fill="#a020b8"/>
<path d="M148.50,48.80 L152.56,47.71 A4.20,4.20 0 0 1 149.94,52.75 Z" fill="#d8dcdc"/>
<path d="M148.50,48.80 L148.13,52.98 A4.20,4.20 0 0 1 144.36,48.07 Z" fill="#c08a28"/>
<circle cx="148.50" cy="48.80" r="4.20" fill="url(#g_shade)" />
<circle cx="106.00" cy="211.30" r="4.20" fill="#7ec4e4" />
<path d="M106.00,211.30 L104.56,207.35 A4.20,4.20 0 0 1 110.06,210.21 Z" fill="#a020b8"/>
<path d="M106.00,211.30 L110.06,210.21 A4.20,4.20 0 0 1 107.44,215.25 Z" fill="#d8dcdc"/>
<path d="M106.00,211.30 L105.63,215.48 A4.20,4.20 0 0 1 101.86,210.57 Z" fill="#c08a28"/>
<circle cx="106.00" cy="211.30" r="4.20" fill="url(#g_shade)" />
<circle cx="123.90" cy="209.00" r="4.20" fill="#7ec4e4" />
<path d="M123.90,209.00 L122.46,205.05 A4.20,4.20 0 0 1 127.96,207.91 Z" fill="#a020b8"/>
<path d="M123.90,209.00 L127.96,207.91 A4.20,4.20 0 0 1 125.34,212.95 Z" fill="#d8dcdc"/>
<path d="M123.90,209.00 L123.53,213.18 A4.20,4.20 0 0 1 119.76,208.27 Z" fill="#c08a28"/>
<circle cx="123.90" cy="209.00" r="4.20" fill="url(#g_shade)" />
<circle cx="129.10" cy="213.50" r="4.20" fill="#7ec4e4" />
<path d="M129.10,213.50 L127.66,209.55 A4.20,4.20 0 0 1 133.16,212.41 Z" fill="#a020b8"/>
<path d="M129.10,213.50 L133.16,212.41 A4.20,4.20 0 0 1 130.54,217.45 Z" fill="#d8dcdc"/>
<path d="M129.10,213.50 L128.73,217.68 A4.20,4.20 0 0 1 124.96,212.77 Z" fill="#c08a28"/>
<circle cx="129.10" cy="213.50" r="4.20" fill="url(#g_shade)" />
<circle cx="148.50" cy="209.80" r="4.20" fill="#7ec4e4" />
<path d="M148.50,209.80 L147.06,205.85 A4.20,4.20 0 0 1 152.56,208.71 Z" fill="#a020b8"/>
<path d="M148.50,209.80 L152.56,208.71 A4.20,4.20 0 0 1 149.94,213.75 Z" fill="#d8dcdc"/>
<path d="M148.50,209.80 L148.13,213.98 A4.20,4.20 0 0 1 144.36,209.07 Z" fill="#c08a28"/>
<circle cx="148.50" cy="209.80" r="4.20" fill="url(#g_shade)" />
<circle cx="134.30" cy="102.40" r="4.20" fill="#7ec4e4" />
<path d="M134.30,102.40 L132.86,98.45 A4.20,4.20 0 0 1 138.36,101.31 Z" fill="#a020b8"/>
<path d="M134.30,102.40 L138.36,101.31 A4.20,4.20 0 0 1 135.74,106.35 Z" fill="#d8dcdc"/>
<path d="M134.30,102.40 L133.93,106.58 A4.20,4.20 0 0 1 130.16,101.67 Z" fill="#c08a28"/>
<circle cx="134.30" cy="102.40" r="4.20" fill="url(#g_shade)" />
<circle cx="120.20" cy="157.30" r="4.20" fill="#7ec4e4" />
<path d="M120.20,157.30 L118.76,153.35 A4.20,4.20 0 0 1 124.26,156.21 Z" fill="#a020b8"/>
<path d="M120.20,157.30 L124.26,156.21 A4.20,4.20 0 0 1 121.64,161.25 Z" fill="#d8dcdc"/>
<path d="M120.20,157.30 L119.83,161.48 A4.20,4.20 0 0 1 116.06,156.57 Z" fill="#c08a28"/>
<circle cx="120.20" cy="157.30" r="4.20" fill="url(#g_shade)" />
<text x="202.60" y="95.70" font-size="11.5" fill="#111" font-weight="bold" text-anchor="start" font-family='"Liberation Serif", serif' stroke="#111" stroke-width="0.3">E</text>
<text x="207.5" y="99.6" font-size="8" font-weight="bold" fill="#111" stroke="#111" stroke-width="0.2" font-family='"Liberation Serif", serif' textLength="15.8" lengthAdjust="spacingAndGlyphs">form</text>
<text x="225.8" y="95.7" font-size="11.5" font-weight="bold" fill="#111" font-family='"Liberation Serif", serif'>=</text>
<text x="237.8" y="95.7" font-size="11.5" font-weight="bold" fill="#111" stroke="#111" stroke-width="0.3" font-family='"Liberation Serif", serif' textLength="52.2" lengthAdjust="spacingAndGlyphs">-0.82 eV/f.u.</text>
<text x="189.60" y="160.80" font-size="10.5" fill="#3a3af0" font-weight="bold" text-anchor="middle" font-family='"Liberation Serif", serif' >Cu</text>
<circle cx="190.40" cy="178.30" r="7.30" fill="url(#l_blue)" />
<text x="218.50" y="160.80" font-size="10.5" fill="#8a8a8a" font-weight="bold" text-anchor="middle" font-family='"Liberation Serif", serif' >Ni</text>
<circle cx="219.30" cy="178.30" r="7.20" fill="url(#l_gray)" />
<text x="246.90" y="160.80" font-size="10.5" fill="#7a6020" font-weight="bold" text-anchor="middle" font-family='"Liberation Serif", serif' >Fe</text>
<circle cx="247.70" cy="178.30" r="7.10" fill="url(#l_brown)" />
<text x="275.80" y="160.80" font-size="10.5" fill="#802080" font-weight="bold" text-anchor="middle" font-family='"Liberation Serif", serif' >Mn</text>
<circle cx="276.60" cy="178.30" r="7.70" fill="url(#l_purple)" />
<text x="304.30" y="160.80" font-size="10.5" fill="#3a90b0" font-weight="bold" text-anchor="middle" font-family='"Liberation Serif", serif' >Ti</text>
<circle cx="305.10" cy="178.30" r="8.20" fill="url(#l_cyan)" />
<text x="235.30" y="195.40" font-size="10.5" fill="#a8a020" font-weight="bold" text-anchor="middle" font-family='"Liberation Serif", serif' >Na</text>
<text x="255.80" y="195.40" font-size="10.5" fill="#e82020" font-weight="bold" text-anchor="middle" font-family='"Liberation Serif", serif' >O</text>
<circle cx="235.70" cy="214.00" r="7.70" fill="url(#l_yellow)" />
<circle cx="256.50" cy="214.00" r="3.30" fill="url(#l_red)" />
<line x1="46.80" y1="210.50" x2="46.80" y2="190.50" stroke="#1010e0" stroke-width="1.8" />
<path d="M46.8,180.4 L43,191.2 L50.6,191.2 Z" fill="#1010e0"/>
<line x1="49.00" y1="212.80" x2="63.50" y2="213.30" stroke="#40d820" stroke-width="1.8" />
<path d="M72.2,213.7 L63.5,210.2 L63.5,217.2 Z" fill="#40d820"/>
<line x1="44.50" y1="213.20" x2="33.70" y2="215.30" stroke="#e01010" stroke-width="1.8" />
<path d="M27.3,216.2 L33.5,212.2 L35,219 Z" fill="#e01010"/>
<circle cx="46.80" cy="212.80" r="2.30" fill="#f4f4f4" stroke="#777" stroke-width="0.7"/>
<text x="46.80" y="176.00" font-size="6.5" fill="#111" font-weight="bold" text-anchor="middle" font-family='"Liberation Sans", sans-serif' >c</text>
<text x="77.80" y="216.60" font-size="6.5" fill="#111" font-weight="bold" text-anchor="middle" font-family='"Liberation Sans", sans-serif' >b</text>
<text x="22.60" y="219.30" font-size="6.5" fill="#111" font-weight="bold" text-anchor="middle" font-family='"Liberation Sans", sans-serif' >a</text>
<text x="348.60" y="239.40" font-size="17.4" fill="#111" font-weight="bold" text-anchor="start" font-family='"Liberation Sans", sans-serif' >(b)</text>
<text x="349.0" y="18.6" font-size="11" font-weight="bold" fill="#111" font-family='"Liberation Sans", sans-serif' textLength="44.3" lengthAdjust="spacingAndGlyphs">HEMO-1</text>
<text x="349.0" y="144.9" font-size="11" font-weight="bold" fill="#111" font-family='"Liberation Sans", sans-serif' textLength="69.6" lengthAdjust="spacingAndGlyphs">Ketjen Black</text>
<circle cx="366.40" cy="63.80" r="2.85" fill="url(#g_red)" />
<circle cx="365.20" cy="68.70" r="2.85" fill="url(#g_red)" />
<circle cx="364.00" cy="73.60" r="2.85" fill="url(#g_red)" />
<circle cx="362.80" cy="78.50" r="2.85" fill="url(#g_red)" />
<circle cx="361.60" cy="83.40" r="2.85" fill="url(#g_red)" />
<circle cx="404.40" cy="63.80" r="2.85" fill="url(#g_red)" />
<circle cx="403.20" cy="68.70" r="2.85" fill="url(#g_red)" />
<circle cx="402.00" cy="73.60" r="2.85" fill="url(#g_red)" />
<circle cx="400.80" cy="78.50" r="2.85" fill="url(#g_red)" />
<circle cx="399.60" cy="83.40" r="2.85" fill="url(#g_red)" />
<circle cx="442.40" cy="63.80" r="2.85" fill="url(#g_red)" />
<circle cx="441.20" cy="68.70" r="2.85" fill="url(#g_red)" />
<circle cx="440.00" cy="73.60" r="2.85" fill="url(#g_red)" />
<circle cx="438.80" cy="78.50" r="2.85" fill="url(#g_red)" />
<circle cx="437.60" cy="83.40" r="2.85" fill="url(#g_red)" />
<circle cx="480.40" cy="63.80" r="2.85" fill="url(#g_red)" />
<circle cx="479.20" cy="68.70" r="2.85" fill="url(#g_red)" />
<circle cx="478.00" cy="73.60" r="2.85" fill="url(#g_red)" />
<circle cx="476.80" cy="78.50" r="2.85" fill="url(#g_red)" />
<circle cx="475.60" cy="83.40" r="2.85" fill="url(#g_red)" />
<circle cx="384.50" cy="93.00" r="2.85" fill="url(#g_red)" />
<circle cx="383.50" cy="98.00" r="2.85" fill="url(#g_red)" />
<circle cx="382.50" cy="103.00" r="2.85" fill="url(#g_red)" />
<circle cx="381.50" cy="108.00" r="2.85" fill="url(#g_red)" />
<circle cx="422.60" cy="93.00" r="2.85" fill="url(#g_red)" />
<circle cx="421.60" cy="98.00" r="2.85" fill="url(#g_red)" />
<circle cx="420.60" cy="103.00" r="2.85" fill="url(#g_red)" />
<circle cx="419.60" cy="108.00" r="2.85" fill="url(#g_red)" />
<circle cx="460.70" cy="93.00" r="2.85" fill="url(#g_red)" />
<circle cx="459.70" cy="98.00" r="2.85" fill="url(#g_red)" />
<circle cx="458.70" cy="103.00" r="2.85" fill="url(#g_red)" />
<circle cx="457.70" cy="108.00" r="2.85" fill="url(#g_red)" />
<circle cx="498.80" cy="93.00" r="2.85" fill="url(#g_red)" />
<circle cx="497.80" cy="98.00" r="2.85" fill="url(#g_red)" />
<circle cx="496.80" cy="103.00" r="2.85" fill="url(#g_red)" />
<circle cx="495.80" cy="108.00" r="2.85" fill="url(#g_red)" />
<circle cx="385.00" cy="64.30" r="5.83" fill="url(#g_blue)" />
<circle cx="383.90" cy="69.00" r="5.83" fill="url(#g_maroon)" />
<circle cx="382.70" cy="75.40" r="7.56" fill="url(#g_orange)" />
<circle cx="381.50" cy="81.30" r="6.05" fill="url(#g_gray)" />
<circle cx="421.80" cy="63.80" r="6.05" fill="url(#g_teal)" />
<circle cx="421.20" cy="69.00" r="5.62" fill="url(#g_gray)" />
<circle cx="420.30" cy="74.30" r="6.05" fill="url(#g_teal)" />
<circle cx="419.50" cy="81.30" r="8.10" fill="url(#g_orange)" />
<circle cx="367.50" cy="88.30" r="5.94" fill="url(#g_gray)" />
<circle cx="365.20" cy="93.50" r="5.94" fill="url(#g_maroon)" />
<circle cx="364.00" cy="98.20" r="5.94" fill="url(#g_blue)" />
<circle cx="362.80" cy="102.90" r="5.94" fill="url(#g_gray)" />
<circle cx="361.70" cy="110.50" r="6.59" fill="url(#g_gray)" />
<circle cx="404.30" cy="89.50" r="5.94" fill="url(#g_maroon)" />
<circle cx="403.10" cy="94.10" r="5.94" fill="url(#g_blue)" />
<circle cx="402.00" cy="98.20" r="5.94" fill="url(#g_teal)" />
<circle cx="400.80" cy="103.50" r="7.56" fill="url(#g_orange)" />
<circle cx="399.60" cy="110.50" r="6.48" fill="url(#g_dpurp)" />
<circle cx="461.00" cy="64.30" r="5.83" fill="url(#g_blue)" />
<circle cx="459.90" cy="69.00" r="5.83" fill="url(#g_maroon)" />
<circle cx="458.70" cy="75.40" r="7.56" fill="url(#g_orange)" />
<circle cx="457.50" cy="81.30" r="6.05" fill="url(#g_gray)" />
<circle cx="498.56" cy="65.30" r="6.05" fill="url(#g_teal)" />
<circle cx="497.96" cy="70.80" r="5.62" fill="url(#g_gray)" />
<circle cx="497.06" cy="75.80" r="6.05" fill="url(#g_teal)" />
<circle cx="495.50" cy="82.10" r="8.53" fill="url(#g_orange)" />
<circle cx="443.50" cy="88.30" r="5.94" fill="url(#g_gray)" />
<circle cx="441.20" cy="93.50" r="5.94" fill="url(#g_maroon)" />
<circle cx="440.00" cy="98.20" r="5.94" fill="url(#g_blue)" />
<circle cx="438.80" cy="102.90" r="5.94" fill="url(#g_gray)" />
<circle cx="437.70" cy="110.50" r="6.59" fill="url(#g_gray)" />
<circle cx="480.30" cy="89.50" r="5.94" fill="url(#g_maroon)" />
<circle cx="479.10" cy="94.10" r="5.94" fill="url(#g_blue)" />
<circle cx="478.00" cy="98.20" r="5.94" fill="url(#g_teal)" />
<circle cx="476.80" cy="103.50" r="7.56" fill="url(#g_orange)" />
<circle cx="475.60" cy="110.50" r="6.48" fill="url(#g_dpurp)" />
<line x1="402.40" y1="35.70" x2="411.90" y2="40.80" stroke="#c8dc40" stroke-width="1.5" />
<line x1="411.90" y1="40.80" x2="420.70" y2="42.30" stroke="#c8dc40" stroke-width="1.5" />
<line x1="420.70" y1="42.30" x2="437.40" y2="23.30" stroke="#c8dc40" stroke-width="1.5" />
<line x1="420.70" y1="42.30" x2="438.90" y2="50.30" stroke="#c8dc40" stroke-width="1.5" />
<line x1="437.40" y1="23.30" x2="460.80" y2="41.60" stroke="#c8dc40" stroke-width="1.5" />
<line x1="438.90" y1="50.30" x2="460.80" y2="41.60" stroke="#c8dc40" stroke-width="1.5" />
<line x1="460.80" y1="41.60" x2="465.20" y2="43.80" stroke="#c8dc40" stroke-width="1.5" />
<line x1="465.20" y1="43.80" x2="476.10" y2="35.70" stroke="#c8dc40" stroke-width="1.5" />
<circle cx="437.40" cy="23.30" r="8.00" fill="url(#g_green)" />
<circle cx="402.40" cy="35.70" r="5.00" fill="url(#g_sy)" />
<circle cx="411.90" cy="40.80" r="5.00" fill="url(#g_sy)" />
<circle cx="465.20" cy="43.80" r="5.00" fill="url(#g_sy)" />
<circle cx="476.10" cy="35.70" r="5.00" fill="url(#g_sy)" />
<circle cx="460.80" cy="41.60" r="5.00" fill="url(#g_sy)" />
<circle cx="420.70" cy="42.30" r="5.00" fill="url(#g_sy)" />
<circle cx="438.90" cy="50.30" r="7.60" fill="url(#g_green)" />
<line x1="418.60" y1="43.50" x2="420.60" y2="67.50" stroke="#222" stroke-width="0.7" />
<line x1="440.40" y1="51.00" x2="441.80" y2="63.50" stroke="#222" stroke-width="0.7" />
<text x="384.2" y="56" font-size="8.6" font-weight="bold" fill="#111" font-family='"Liberation Sans", sans-serif' textLength="29.8" lengthAdjust="spacingAndGlyphs">2.276 &#197;</text>
<text x="449.1" y="58.5" font-size="8.6" font-weight="bold" fill="#111" font-family='"Liberation Sans", sans-serif' textLength="27" lengthAdjust="spacingAndGlyphs">1.842&#197;</text>
<line x1="383.25" y1="175.20" x2="391.90" y2="177.46" stroke="#6a4020" stroke-width="0.9" />
<line x1="391.90" y1="177.46" x2="400.55" y2="175.51" stroke="#6a4020" stroke-width="0.9" />
<line x1="400.55" y1="175.51" x2="409.20" y2="177.77" stroke="#6a4020" stroke-width="0.9" />
<line x1="409.20" y1="177.77" x2="417.85" y2="175.83" stroke="#6a4020" stroke-width="0.9" />
<line x1="417.85" y1="175.83" x2="426.50" y2="178.08" stroke="#6a4020" stroke-width="0.9" />
<line x1="426.50" y1="178.08" x2="435.15" y2="176.14" stroke="#6a4020" stroke-width="0.9" />
<line x1="435.15" y1="176.14" x2="443.80" y2="178.40" stroke="#6a4020" stroke-width="0.9" />
<line x1="443.80" y1="178.40" x2="452.45" y2="176.46" stroke="#6a4020" stroke-width="0.9" />
<line x1="452.45" y1="176.46" x2="461.10" y2="178.71" stroke="#6a4020" stroke-width="0.9" />
<line x1="461.10" y1="178.71" x2="469.75" y2="176.77" stroke="#6a4020" stroke-width="0.9" />
<line x1="469.75" y1="176.77" x2="478.40" y2="179.03" stroke="#6a4020" stroke-width="0.9" />
<line x1="478.40" y1="179.03" x2="487.05" y2="177.08" stroke="#6a4020" stroke-width="0.9" />
<line x1="487.05" y1="177.08" x2="495.70" y2="179.34" stroke="#6a4020" stroke-width="0.9" />
<line x1="495.70" y1="179.34" x2="504.35" y2="177.40" stroke="#6a4020" stroke-width="0.9" />
<line x1="374.60" y1="181.10" x2="383.25" y2="183.36" stroke="#6a4020" stroke-width="0.9" />
<line x1="383.25" y1="183.36" x2="391.90" y2="181.41" stroke="#6a4020" stroke-width="0.9" />
<line x1="391.90" y1="181.41" x2="400.55" y2="183.67" stroke="#6a4020" stroke-width="0.9" />
<line x1="400.55" y1="183.67" x2="409.20" y2="181.73" stroke="#6a4020" stroke-width="0.9" />
<line x1="409.20" y1="181.73" x2="417.85" y2="183.98" stroke="#6a4020" stroke-width="0.9" />
<line x1="417.85" y1="183.98" x2="426.50" y2="182.04" stroke="#6a4020" stroke-width="0.9" />
<line x1="426.50" y1="182.04" x2="435.15" y2="184.30" stroke="#6a4020" stroke-width="0.9" />
<line x1="435.15" y1="184.30" x2="443.80" y2="182.36" stroke="#6a4020" stroke-width="0.9" />
<line x1="443.80" y1="182.36" x2="452.45" y2="184.61" stroke="#6a4020" stroke-width="0.9" />
<line x1="452.45" y1="184.61" x2="461.10" y2="182.67" stroke="#6a4020" stroke-width="0.9" />
<line x1="461.10" y1="182.67" x2="469.75" y2="184.93" stroke="#6a4020" stroke-width="0.9" />
<line x1="469.75" y1="184.93" x2="478.40" y2="182.98" stroke="#6a4020" stroke-width="0.9" />
<line x1="478.40" y1="182.98" x2="487.05" y2="185.24" stroke="#6a4020" stroke-width="0.9" />
<line x1="487.05" y1="185.24" x2="495.70" y2="183.30" stroke="#6a4020" stroke-width="0.9" />
<line x1="365.95" y1="186.70" x2="374.60" y2="189.16" stroke="#6a4020" stroke-width="0.9" />
<line x1="374.60" y1="189.16" x2="383.25" y2="187.01" stroke="#6a4020" stroke-width="0.9" />
<line x1="383.25" y1="187.01" x2="391.90" y2="189.47" stroke="#6a4020" stroke-width="0.9" />
<line x1="391.90" y1="189.47" x2="400.55" y2="187.33" stroke="#6a4020" stroke-width="0.9" />
<line x1="400.55" y1="187.33" x2="409.20" y2="189.78" stroke="#6a4020" stroke-width="0.9" />
<line x1="409.20" y1="189.78" x2="417.85" y2="187.64" stroke="#6a4020" stroke-width="0.9" />
<line x1="417.85" y1="187.64" x2="426.50" y2="190.10" stroke="#6a4020" stroke-width="0.9" />
<line x1="426.50" y1="190.10" x2="435.15" y2="187.96" stroke="#6a4020" stroke-width="0.9" />
<line x1="435.15" y1="187.96" x2="443.80" y2="190.41" stroke="#6a4020" stroke-width="0.9" />
<line x1="443.80" y1="190.41" x2="452.45" y2="188.27" stroke="#6a4020" stroke-width="0.9" />
<line x1="452.45" y1="188.27" x2="461.10" y2="190.73" stroke="#6a4020" stroke-width="0.9" />
<line x1="461.10" y1="190.73" x2="469.75" y2="188.58" stroke="#6a4020" stroke-width="0.9" />
<line x1="469.75" y1="188.58" x2="478.40" y2="191.04" stroke="#6a4020" stroke-width="0.9" />
<line x1="478.40" y1="191.04" x2="487.05" y2="188.90" stroke="#6a4020" stroke-width="0.9" />
<line x1="357.30" y1="192.80" x2="365.95" y2="195.16" stroke="#6a4020" stroke-width="0.9" />
<line x1="365.95" y1="195.16" x2="374.60" y2="193.11" stroke="#6a4020" stroke-width="0.9" />
<line x1="374.60" y1="193.11" x2="383.25" y2="195.47" stroke="#6a4020" stroke-width="0.9" />
<line x1="383.25" y1="195.47" x2="391.90" y2="193.43" stroke="#6a4020" stroke-width="0.9" />
<line x1="391.90" y1="193.43" x2="400.55" y2="195.78" stroke="#6a4020" stroke-width="0.9" />
<line x1="400.55" y1="195.78" x2="409.20" y2="193.74" stroke="#6a4020" stroke-width="0.9" />
<line x1="409.20" y1="193.74" x2="417.85" y2="196.10" stroke="#6a4020" stroke-width="0.9" />
<line x1="417.85" y1="196.10" x2="426.50" y2="194.06" stroke="#6a4020" stroke-width="0.9" />
<line x1="426.50" y1="194.06" x2="435.15" y2="196.41" stroke="#6a4020" stroke-width="0.9" />
<line x1="435.15" y1="196.41" x2="443.80" y2="194.37" stroke="#6a4020" stroke-width="0.9" />
<line x1="443.80" y1="194.37" x2="452.45" y2="196.73" stroke="#6a4020" stroke-width="0.9" />
<line x1="452.45" y1="196.73" x2="461.10" y2="194.68" stroke="#6a4020" stroke-width="0.9" />
<line x1="461.10" y1="194.68" x2="469.75" y2="197.04" stroke="#6a4020" stroke-width="0.9" />
<line x1="469.75" y1="197.04" x2="478.40" y2="195.00" stroke="#6a4020" stroke-width="0.9" />
<line x1="391.90" y1="177.46" x2="391.90" y2="181.41" stroke="#6a4020" stroke-width="0.9" />
<line x1="409.20" y1="177.77" x2="409.20" y2="181.73" stroke="#6a4020" stroke-width="0.9" />
<line x1="426.50" y1="178.08" x2="426.50" y2="182.04" stroke="#6a4020" stroke-width="0.9" />
<line x1="443.80" y1="178.40" x2="443.80" y2="182.36" stroke="#6a4020" stroke-width="0.9" />
<line x1="461.10" y1="178.71" x2="461.10" y2="182.67" stroke="#6a4020" stroke-width="0.9" />
<line x1="478.40" y1="179.03" x2="478.40" y2="182.98" stroke="#6a4020" stroke-width="0.9" />
<line x1="495.70" y1="179.34" x2="495.70" y2="183.30" stroke="#6a4020" stroke-width="0.9" />
<line x1="383.25" y1="183.36" x2="383.25" y2="187.01" stroke="#6a4020" stroke-width="0.9" />
<line x1="400.55" y1="183.67" x2="400.55" y2="187.33" stroke="#6a4020" stroke-width="0.9" />
<line x1="417.85" y1="183.98" x2="417.85" y2="187.64" stroke="#6a4020" stroke-width="0.9" />
<line x1="435.15" y1="184.30" x2="435.15" y2="187.96" stroke="#6a4020" stroke-width="0.9" />
<line x1="452.45" y1="184.61" x2="452.45" y2="188.27" stroke="#6a4020" stroke-width="0.9" />
<line x1="469.75" y1="184.93" x2="469.75" y2="188.58" stroke="#6a4020" stroke-width="0.9" />
<line x1="487.05" y1="185.24" x2="487.05" y2="188.90" stroke="#6a4020" stroke-width="0.9" />
<line x1="374.60" y1="189.16" x2="374.60" y2="193.11" stroke="#6a4020" stroke-width="0.9" />
<line x1="391.90" y1="189.47" x2="391.90" y2="193.43" stroke="#6a4020" stroke-width="0.9" />
<line x1="409.20" y1="189.78" x2="409.20" y2="193.74" stroke="#6a4020" stroke-width="0.9" />
<line x1="426.50" y1="190.10" x2="426.50" y2="194.06" stroke="#6a4020" stroke-width="0.9" />
<line x1="443.80" y1="190.41" x2="443.80" y2="194.37" stroke="#6a4020" stroke-width="0.9" />
<line x1="461.10" y1="190.73" x2="461.10" y2="194.68" stroke="#6a4020" stroke-width="0.9" />
<line x1="478.40" y1="191.04" x2="478.40" y2="195.00" stroke="#6a4020" stroke-width="0.9" />
<line x1="365.95" y1="195.16" x2="365.95" y2="199.50" stroke="#6a4020" stroke-width="0.9" />
<line x1="383.25" y1="195.47" x2="383.25" y2="199.81" stroke="#6a4020" stroke-width="0.9" />
<line x1="400.55" y1="195.78" x2="400.55" y2="200.13" stroke="#6a4020" stroke-width="0.9" />
<line x1="417.85" y1="196.10" x2="417.85" y2="200.44" stroke="#6a4020" stroke-width="0.9" />
<line x1="435.15" y1="196.41" x2="435.15" y2="200.76" stroke="#6a4020" stroke-width="0.9" />
<line x1="452.45" y1="196.73" x2="452.45" y2="201.07" stroke="#6a4020" stroke-width="0.9" />
<line x1="469.75" y1="197.04" x2="469.75" y2="201.38" stroke="#6a4020" stroke-width="0.9" />
<circle cx="383.25" cy="175.20" r="2.05" fill="url(#g_cbrown)" />
<circle cx="391.90" cy="177.46" r="2.05" fill="url(#g_cbrown)" />
<circle cx="400.55" cy="175.51" r="2.05" fill="url(#g_cbrown)" />
<circle cx="409.20" cy="177.77" r="2.05" fill="url(#g_cbrown)" />
<circle cx="417.85" cy="175.83" r="2.05" fill="url(#g_cbrown)" />
<circle cx="426.50" cy="178.08" r="2.05" fill="url(#g_cbrown)" />
<circle cx="435.15" cy="176.14" r="2.05" fill="url(#g_cbrown)" />
<circle cx="443.80" cy="178.40" r="2.05" fill="url(#g_cbrown)" />
<circle cx="452.45" cy="176.46" r="2.05" fill="url(#g_cbrown)" />
<circle cx="461.10" cy="178.71" r="2.05" fill="url(#g_cbrown)" />
<circle cx="469.75" cy="176.77" r="2.05" fill="url(#g_cbrown)" />
<circle cx="478.40" cy="179.03" r="2.05" fill="url(#g_cbrown)" />
<circle cx="487.05" cy="177.08" r="2.05" fill="url(#g_cbrown)" />
<circle cx="495.70" cy="179.34" r="2.05" fill="url(#g_cbrown)" />
<circle cx="504.35" cy="177.40" r="2.05" fill="url(#g_cbrown)" />
<circle cx="374.60" cy="181.10" r="2.05" fill="url(#g_cbrown)" />
<circle cx="383.25" cy="183.36" r="2.05" fill="url(#g_cbrown)" />
<circle cx="391.90" cy="181.41" r="2.05" fill="url(#g_cbrown)" />
<circle cx="400.55" cy="183.67" r="2.05" fill="url(#g_cbrown)" />
<circle cx="409.20" cy="181.73" r="2.05" fill="url(#g_cbrown)" />
<circle cx="417.85" cy="183.98" r="2.05" fill="url(#g_cbrown)" />
<circle cx="426.50" cy="182.04" r="2.05" fill="url(#g_cbrown)" />
<circle cx="435.15" cy="184.30" r="2.05" fill="url(#g_cbrown)" />
<circle cx="443.80" cy="182.36" r="2.05" fill="url(#g_cbrown)" />
<circle cx="452.45" cy="184.61" r="2.05" fill="url(#g_cbrown)" />
<circle cx="461.10" cy="182.67" r="2.05" fill="url(#g_cbrown)" />
<circle cx="469.75" cy="184.93" r="2.05" fill="url(#g_cbrown)" />
<circle cx="478.40" cy="182.98" r="2.05" fill="url(#g_cbrown)" />
<circle cx="487.05" cy="185.24" r="2.05" fill="url(#g_cbrown)" />
<circle cx="495.70" cy="183.30" r="2.05" fill="url(#g_cbrown)" />
<circle cx="365.95" cy="186.70" r="2.05" fill="url(#g_cbrown)" />
<circle cx="374.60" cy="189.16" r="2.05" fill="url(#g_cbrown)" />
<circle cx="383.25" cy="187.01" r="2.05" fill="url(#g_cbrown)" />
<circle cx="391.90" cy="189.47" r="2.05" fill="url(#g_cbrown)" />
<circle cx="400.55" cy="187.33" r="2.05" fill="url(#g_cbrown)" />
<circle cx="409.20" cy="189.78" r="2.05" fill="url(#g_cbrown)" />
<circle cx="417.85" cy="187.64" r="2.05" fill="url(#g_cbrown)" />
<circle cx="426.50" cy="190.10" r="2.05" fill="url(#g_cbrown)" />
<circle cx="435.15" cy="187.96" r="2.05" fill="url(#g_cbrown)" />
<circle cx="443.80" cy="190.41" r="2.05" fill="url(#g_cbrown)" />
<circle cx="452.45" cy="188.27" r="2.05" fill="url(#g_cbrown)" />
<circle cx="461.10" cy="190.73" r="2.05" fill="url(#g_cbrown)" />
<circle cx="469.75" cy="188.58" r="2.05" fill="url(#g_cbrown)" />
<circle cx="478.40" cy="191.04" r="2.05" fill="url(#g_cbrown)" />
<circle cx="487.05" cy="188.90" r="2.05" fill="url(#g_cbrown)" />
<circle cx="357.30" cy="192.80" r="2.05" fill="url(#g_cbrown)" />
<circle cx="365.95" cy="195.16" r="2.05" fill="url(#g_cbrown)" />
<circle cx="374.60" cy="193.11" r="2.05" fill="url(#g_cbrown)" />
<circle cx="383.25" cy="195.47" r="2.05" fill="url(#g_cbrown)" />
<circle cx="391.90" cy="193.43" r="2.05" fill="url(#g_cbrown)" />
<circle cx="400.55" cy="195.78" r="2.05" fill="url(#g_cbrown)" />
<circle cx="409.20" cy="193.74" r="2.05" fill="url(#g_cbrown)" />
<circle cx="417.85" cy="196.10" r="2.05" fill="url(#g_cbrown)" />
<circle cx="426.50" cy="194.06" r="2.05" fill="url(#g_cbrown)" />
<circle cx="435.15" cy="196.41" r="2.05" fill="url(#g_cbrown)" />
<circle cx="443.80" cy="194.37" r="2.05" fill="url(#g_cbrown)" />
<circle cx="452.45" cy="196.73" r="2.05" fill="url(#g_cbrown)" />
<circle cx="461.10" cy="194.68" r="2.05" fill="url(#g_cbrown)" />
<circle cx="469.75" cy="197.04" r="2.05" fill="url(#g_cbrown)" />
<circle cx="478.40" cy="195.00" r="2.05" fill="url(#g_cbrown)" />
<circle cx="365.95" cy="199.50" r="2.05" fill="url(#g_cbrown)" />
<circle cx="383.25" cy="199.81" r="2.05" fill="url(#g_cbrown)" />
<circle cx="400.55" cy="200.13" r="2.05" fill="url(#g_cbrown)" />
<circle cx="417.85" cy="200.44" r="2.05" fill="url(#g_cbrown)" />
<circle cx="435.15" cy="200.76" r="2.05" fill="url(#g_cbrown)" />
<circle cx="452.45" cy="201.07" r="2.05" fill="url(#g_cbrown)" />
<circle cx="469.75" cy="201.38" r="2.05" fill="url(#g_cbrown)" />
<line x1="427.40" y1="153.30" x2="446.40" y2="151.10" stroke="#c8dc40" stroke-width="0.9" />
<line x1="427.40" y1="153.30" x2="434.00" y2="156.60" stroke="#c8dc40" stroke-width="0.9" />
<line x1="427.40" y1="153.30" x2="424.10" y2="165.00" stroke="#c8dc40" stroke-width="0.9" />
<line x1="424.10" y1="165.00" x2="438.00" y2="169.00" stroke="#c8dc40" stroke-width="0.9" />
<line x1="434.00" y1="156.60" x2="438.00" y2="169.00" stroke="#c8dc40" stroke-width="0.9" />
<line x1="438.00" y1="169.00" x2="447.50" y2="159.20" stroke="#c8dc40" stroke-width="0.9" />
<line x1="447.50" y1="159.20" x2="446.40" y2="151.10" stroke="#c8dc40" stroke-width="0.9" />
<line x1="446.40" y1="151.10" x2="455.50" y2="163.50" stroke="#c8dc40" stroke-width="0.9" />
<line x1="455.50" y1="163.50" x2="440.20" y2="169.70" stroke="#c8dc40" stroke-width="0.9" />
<line x1="447.50" y1="159.20" x2="455.50" y2="163.50" stroke="#c8dc40" stroke-width="0.9" />
<line x1="434.00" y1="156.60" x2="440.20" y2="169.70" stroke="#c8dc40" stroke-width="0.9" />
<line x1="434.00" y1="156.60" x2="446.40" y2="151.10" stroke="#c8dc40" stroke-width="0.9" />
<circle cx="446.40" cy="151.10" r="4.40" fill="url(#g_green)" />
<circle cx="440.20" cy="169.70" r="4.20" fill="url(#g_green)" />
<circle cx="427.40" cy="153.30" r="2.80" fill="url(#g_sy)" />
<circle cx="434.00" cy="156.60" r="2.80" fill="url(#g_sy)" />
<circle cx="424.10" cy="165.00" r="2.80" fill="url(#g_sy)" />
<circle cx="447.50" cy="159.20" r="2.80" fill="url(#g_sy)" />
<circle cx="455.50" cy="163.50" r="2.80" fill="url(#g_sy)" />
<circle cx="438.00" cy="169.00" r="2.80" fill="url(#g_sy)" />
<line x1="528.00" y1="16.00" x2="531.00" y2="16.00" stroke="#333" stroke-width="1.1" />
<text x="527.60" y="18.80" font-size="7.8" fill="#222" font-weight="bold" text-anchor="end" font-family='"Liberation Sans", sans-serif' >0</text>
<line x1="528.00" y1="42.96" x2="531.00" y2="42.96" stroke="#333" stroke-width="1.1" />
<text x="527.60" y="45.76" font-size="7.8" fill="#222" font-weight="bold" text-anchor="end" font-family='"Liberation Sans", sans-serif' >-2</text>
<line x1="528.00" y1="69.92" x2="531.00" y2="69.92" stroke="#333" stroke-width="1.1" />
<text x="527.60" y="72.72" font-size="7.8" fill="#222" font-weight="bold" text-anchor="end" font-family='"Liberation Sans", sans-serif' >-4</text>
<line x1="528.00" y1="96.88" x2="531.00" y2="96.88" stroke="#333" stroke-width="1.1" />
<text x="527.60" y="99.68" font-size="7.8" fill="#222" font-weight="bold" text-anchor="end" font-family='"Liberation Sans", sans-serif' >-6</text>
<line x1="528.00" y1="123.84" x2="531.00" y2="123.84" stroke="#333" stroke-width="1.1" />
<text x="527.60" y="126.64" font-size="7.8" fill="#222" font-weight="bold" text-anchor="end" font-family='"Liberation Sans", sans-serif' >-8</text>
<line x1="529.30" y1="29.48" x2="531.00" y2="29.48" stroke="#333" stroke-width="1.1" />
<line x1="529.30" y1="56.44" x2="531.00" y2="56.44" stroke="#333" stroke-width="1.1" />
<line x1="529.30" y1="83.40" x2="531.00" y2="83.40" stroke="#333" stroke-width="1.1" />
<line x1="529.30" y1="110.36" x2="531.00" y2="110.36" stroke="#333" stroke-width="1.1" />
<rect x="558.9" y="16.0" width="27.9" height="92.74" fill="#7b2e9c"/>
<rect x="604.1" y="16.0" width="28" height="9.9" fill="#8a9a35"/>
<line x1="531.00" y1="16.00" x2="531.00" y2="124.34" stroke="#333" stroke-width="1.2" />
<line x1="531.00" y1="16.00" x2="670.20" y2="16.00" stroke="#4a4a4a" stroke-width="1.4" />
<text x="558.9" y="120.2" font-size="7.6" font-weight="bold" fill="#111" font-family='"Liberation Sans", sans-serif' textLength="43.3" lengthAdjust="spacingAndGlyphs"><tspan>HEMO-1-Li</tspan><tspan font-size="5.7" dy="2">2</tspan><tspan dy="-2">S</tspan><tspan font-size="5.7" dy="2">6</tspan></text>
<text x="608.5" y="36.2" font-size="7.6" font-weight="bold" fill="#111" font-family='"Liberation Sans", sans-serif' textLength="27.5" lengthAdjust="spacingAndGlyphs"><tspan>KB-Li</tspan><tspan font-size="5.7" dy="2">2</tspan><tspan dy="-2">S</tspan><tspan font-size="5.7" dy="2">6</tspan></text>
<text x="0" y="0" font-size="8.4" font-weight="bold" fill="#111" font-family='"Liberation Sans", sans-serif' text-anchor="middle" textLength="74.8" lengthAdjust="spacingAndGlyphs" transform="translate(517.4,71) rotate(-90)">Binding energy (eV)</text>
<defs><linearGradient id="phbg" x1="0" y1="0" x2="0" y2="1"><stop offset="0" stop-color="#c6c6cc"/><stop offset="0.55" stop-color="#b2b2b8"/><stop offset="0.85" stop-color="#929296"/><stop offset="1" stop-color="#6e6e6e"/></linearGradient><linearGradient id="phh" x1="0" y1="0" x2="1" y2="0"><stop offset="0" stop-color="#000" stop-opacity="0.12"/><stop offset="0.06" stop-color="#000" stop-opacity="0"/><stop offset="0.94" stop-color="#000" stop-opacity="0"/><stop offset="1" stop-color="#000" stop-opacity="0.12"/></linearGradient></defs>
<rect x="580.1" y="153" width="81.9" height="64.8" fill="url(#phbg)"/>
<rect x="580.1" y="153" width="81.9" height="64.8" fill="url(#phh)"/>
<rect x="584.1" y="161.4" width="21.100000000000023" height="10.8" rx="1.2" fill="#d6d8d0"/>
<rect x="584.1" y="170.5" width="21.100000000000023" height="1.7" fill="#c0c2b8"/>
<rect x="584.1" y="172.2" width="21.100000000000023" height="4" fill="#a8b838"/>
<rect x="584.1" y="176.2" width="21.100000000000023" height="6" fill="#f4f4f2"/>
<rect x="584.1" y="182.2" width="21.100000000000023" height="1.6" fill="#a8b838"/>
<rect x="584.1" y="183.8" width="21.100000000000023" height="29.3" fill="#b4c23a"/>
<rect x="584.1" y="210.1" width="21.100000000000023" height="3" fill="#c0cc50"/>
<rect x="584.1" y="213.1" width="21.100000000000023" height="3.5" fill="#9aa830"/>
<text x="594.7" y="181" font-size="3.6" font-weight="bold" fill="#222" text-anchor="middle" font-family='"Liberation Sans", sans-serif' textLength="10" lengthAdjust="spacingAndGlyphs">Li<tspan font-size="2.6" dy="1">2</tspan><tspan dy="-1">S</tspan><tspan font-size="2.6" dy="1">6</tspan></text>
<rect x="610.2" y="161.4" width="21.199999999999932" height="10.8" rx="1.2" fill="#d6d8d0"/>
<rect x="610.2" y="170.5" width="21.199999999999932" height="1.7" fill="#c0c2b8"/>
<rect x="610.2" y="172.2" width="21.199999999999932" height="4" fill="#3a4018"/>
<rect x="610.2" y="176.2" width="21.199999999999932" height="6" fill="#f4f4f2"/>
<rect x="610.2" y="182.2" width="21.199999999999932" height="1.6" fill="#3a4018"/>
<rect x="610.2" y="183.8" width="21.199999999999932" height="29.3" fill="#8c9a2e"/>
<rect x="610.2" y="207.6" width="21.199999999999932" height="5.5" fill="#161810"/>
<rect x="610.2" y="213.1" width="21.199999999999932" height="3.5" fill="#3a3a30"/>
<text x="620.8" y="181" font-size="3.6" font-weight="bold" fill="#222" text-anchor="middle" font-family='"Liberation Sans", sans-serif' textLength="17" lengthAdjust="spacingAndGlyphs">KB carbon</text>
<rect x="636.1" y="161.4" width="21.5" height="10.8" rx="1.2" fill="#d6d8d0"/>
<rect x="636.1" y="170.5" width="21.5" height="1.7" fill="#c0c2b8"/>
<rect x="636.1" y="172.2" width="21.5" height="4" fill="#3a3a34"/>
<rect x="636.1" y="176.2" width="21.5" height="6" fill="#f4f4f2"/>
<rect x="636.1" y="182.2" width="21.5" height="1.6" fill="#3a3a34"/>
<rect x="636.1" y="183.8" width="21.5" height="29.3" fill="#c4c4bc"/>
<rect x="636.1" y="210.6" width="21.5" height="2.5" fill="#2a2a28"/>
<rect x="636.1" y="213.1" width="21.5" height="3.5" fill="#6a6a66"/>
<text x="646.9" y="181" font-size="3.6" font-weight="bold" fill="#222" text-anchor="middle" font-family='"Liberation Sans", sans-serif' textLength="15" lengthAdjust="spacingAndGlyphs">HEMO-1</text>
<path d="M530.9,168.5 L533.0,176.0 L535.0,186.0 L537.0,196.0 L538.5,202.5 L540.5,206.5 L543.0,210.2 L545.5,212.3 L548.0,213.5 L552.0,214.4 L557.7,215.1 L561.0,215.6 L564.3,216.7 L568.0,218.0 L571.0,219.0 L574.1,220.0 L579.0,220.8 L585.0,221.1 L588.1,221.2 L591.1,221.2 L594.2,221.3 L597.2,221.3 L600.3,221.1 L603.3,221.0 L606.4,221.5 L609.5,221.2 L612.5,221.2 L615.6,221.6 L618.6,221.4 L621.7,221.6 L624.8,221.4 L627.8,221.5 L630.9,221.3 L633.9,221.5 L637.0,221.6 L640.0,221.5 L643.1,221.6 L646.2,221.6 L649.2,221.3 L652.3,221.7 L655.3,221.6 L658.4,221.5 L661.4,221.4 L664.5,221.8" fill="none" stroke="#111" stroke-width="1.3" stroke-linejoin="round"/>
<path d="M530.9,166.8 L532.0,168.5 L533.2,173.0 L534.0,179.0 L535.5,190.0 L536.5,198.7 L538.0,204.0 L539.7,208.6 L542.0,212.5 L544.6,215.1 L547.0,216.8 L549.5,217.6 L553.0,218.0 L557.7,218.4 L562.0,219.0 L565.9,220.0 L570.0,221.0 L574.1,221.7 L580.6,222.5 L584.0,222.7 L586.9,222.9 L589.8,223.0 L592.6,222.8 L595.5,223.0 L598.4,222.5 L601.2,222.9 L604.1,222.6 L607.0,223.0 L609.9,222.9 L612.8,222.2 L615.6,222.2 L618.5,222.3 L621.4,222.9 L624.2,222.4 L627.1,222.6 L630.0,222.3 L632.9,222.5 L635.8,222.3 L638.6,222.3 L641.5,222.5 L644.4,222.5 L647.2,222.7 L650.1,222.5 L653.0,222.7 L655.9,222.7 L658.8,222.8 L661.6,222.5 L664.5,222.0" fill="none" stroke="#2020ee" stroke-width="1.3" stroke-linejoin="round"/>
<path d="M530.9,209.4 L532.5,212.2 L534.5,216.0 L536.5,219.2 L538.5,220.8 L541.4,222.0 L544.0,222.5 L547.0,222.6 L550.0,222.6 L553.0,222.3 L556.0,222.4 L559.1,221.9 L562.1,222.5 L565.1,222.3 L568.1,222.0 L571.1,221.8 L574.1,222.5 L577.1,222.6 L580.1,221.8 L583.2,222.5 L586.2,222.1 L589.2,221.9 L592.2,222.0 L595.2,222.4 L598.2,222.5 L601.2,221.8 L604.2,222.3 L607.3,221.8 L610.3,222.4 L613.3,222.0 L616.3,222.5 L619.3,222.6 L622.3,222.2 L625.3,222.6 L628.4,222.0 L631.4,221.8 L634.4,222.3 L637.4,221.8 L640.4,221.9 L643.4,222.1 L646.4,222.3 L649.4,221.9 L652.5,221.8 L655.5,222.5 L658.5,222.0 L661.5,222.6 L664.5,222.6" fill="none" stroke="#dd2020" stroke-width="1.3" stroke-linejoin="round"/>
<rect x="530.6" y="134.4" width="134.5" height="98.9" fill="none" stroke="#111" stroke-width="1.3"/>
<line x1="530.60" y1="233.30" x2="530.60" y2="230.70" stroke="#111" stroke-width="1" />
<text x="530.60" y="242.60" font-size="7.5" fill="#111" font-weight="bold" text-anchor="middle" font-family='"Liberation Sans", sans-serif' textLength="11.7" lengthAdjust="spacingAndGlyphs">300</text>
<line x1="557.50" y1="233.30" x2="557.50" y2="230.70" stroke="#111" stroke-width="1" />
<text x="557.50" y="242.60" font-size="7.5" fill="#111" font-weight="bold" text-anchor="middle" font-family='"Liberation Sans", sans-serif' textLength="11.7" lengthAdjust="spacingAndGlyphs">400</text>
<line x1="584.40" y1="233.30" x2="584.40" y2="230.70" stroke="#111" stroke-width="1" />
<text x="584.40" y="242.60" font-size="7.5" fill="#111" font-weight="bold" text-anchor="middle" font-family='"Liberation Sans", sans-serif' textLength="11.7" lengthAdjust="spacingAndGlyphs">500</text>
<line x1="611.30" y1="233.30" x2="611.30" y2="230.70" stroke="#111" stroke-width="1" />
<text x="611.30" y="242.60" font-size="7.5" fill="#111" font-weight="bold" text-anchor="middle" font-family='"Liberation Sans", sans-serif' textLength="11.7" lengthAdjust="spacingAndGlyphs">600</text>
<line x1="638.20" y1="233.30" x2="638.20" y2="230.70" stroke="#111" stroke-width="1" />
<text x="638.20" y="242.60" font-size="7.5" fill="#111" font-weight="bold" text-anchor="middle" font-family='"Liberation Sans", sans-serif' textLength="11.7" lengthAdjust="spacingAndGlyphs">700</text>
<line x1="665.10" y1="233.30" x2="665.10" y2="230.70" stroke="#111" stroke-width="1" />
<text x="665.10" y="242.60" font-size="7.5" fill="#111" font-weight="bold" text-anchor="middle" font-family='"Liberation Sans", sans-serif' textLength="11.7" lengthAdjust="spacingAndGlyphs">800</text>
<line x1="544.05" y1="233.30" x2="544.05" y2="231.80" stroke="#111" stroke-width="1" />
<line x1="570.95" y1="233.30" x2="570.95" y2="231.80" stroke="#111" stroke-width="1" />
<line x1="597.85" y1="233.30" x2="597.85" y2="231.80" stroke="#111" stroke-width="1" />
<line x1="624.75" y1="233.30" x2="624.75" y2="231.80" stroke="#111" stroke-width="1" />
<line x1="651.65" y1="233.30" x2="651.65" y2="231.80" stroke="#111" stroke-width="1" />
<text x="570.2" y="252.4" font-size="8.2" font-weight="bold" fill="#111" font-family='"Liberation Sans", sans-serif' textLength="62" lengthAdjust="spacingAndGlyphs">Wavelength (nm)</text>
<text x="0" y="0" font-size="8.2" font-weight="bold" fill="#111" font-family='"Liberation Sans", sans-serif' text-anchor="middle" textLength="51" lengthAdjust="spacingAndGlyphs" transform="translate(518.6,180.6) rotate(-90)">Intensity (a.u.)</text>
<line x1="535.00" y1="140.90" x2="547.70" y2="140.90" stroke="#111" stroke-width="1.3" />
<line x1="535.00" y1="150.60" x2="547.70" y2="150.60" stroke="#2020ee" stroke-width="1.3" />
<line x1="535.00" y1="159.60" x2="547.70" y2="159.60" stroke="#dd2020" stroke-width="1.3" />
<text x="549" y="143.4" font-size="6" font-weight="bold" fill="#111" font-family='"Liberation Sans", sans-serif'><tspan>Li</tspan><tspan font-size="4.2" dy="1.6">2</tspan><tspan dy="-1.6">S</tspan><tspan font-size="4.2" dy="1.6">6</tspan></text>
<text x="549.5" y="152.6" font-size="6.2" font-weight="bold" fill="#111" font-family='"Liberation Sans", sans-serif' textLength="29.3" lengthAdjust="spacingAndGlyphs">KB Carbon</text>
<text x="549.5" y="161.4" font-size="6.2" font-weight="bold" fill="#111" font-family='"Liberation Sans", sans-serif' textLength="21.4" lengthAdjust="spacingAndGlyphs">HEMO-1</text>
</svg></body></html>
